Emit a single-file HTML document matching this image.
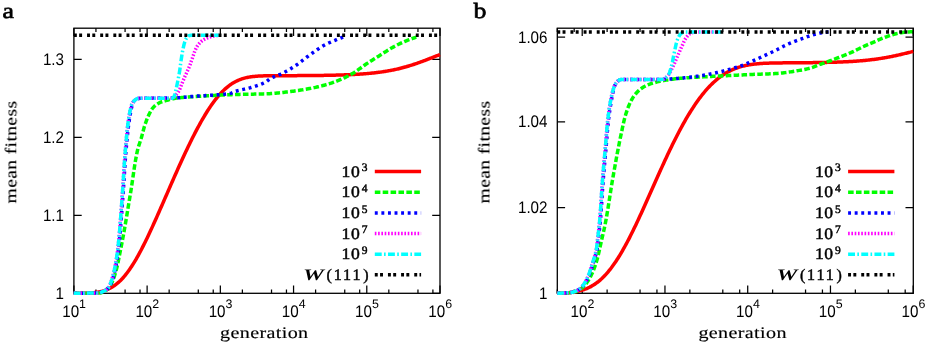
<!DOCTYPE html>
<html><head><meta charset="utf-8"><title>mean fitness vs generation</title>
<style>
html,body{margin:0;padding:0;background:#fff;}
svg{display:block}
text{text-rendering:geometricPrecision;filter:url(#tb)}
.tk{font-family:"Liberation Sans",sans-serif;font-size:15.2px;fill:#000}
.lg{font-family:"Liberation Serif",serif;font-size:16px;fill:#000;stroke:#000;stroke-width:0.45px}
.al{font-family:"Liberation Serif",serif;font-size:16.2px;fill:#000;letter-spacing:0.3px;stroke:#000;stroke-width:0.15px}
.pl{font-family:"Liberation Serif",serif;font-size:23px;fill:#000;stroke:#000;stroke-width:0.7px}
</style></head>
<body>
<svg width="926" height="343" viewBox="0 0 926 343">
<defs><filter id="tb" x="-10%" y="-30%" width="120%" height="160%"><feGaussianBlur stdDeviation="0.35"/></filter></defs>
<rect width="926" height="343" fill="#fff"/>
<rect x="73.9" y="28.2" width="366.1" height="265.1" fill="none" stroke="#000" stroke-width="1.3"/>
<text transform="translate(62.20,316.7) scale(1,1.1)" class="tk">10</text>
<text x="79.10" y="308.4" class="tk" style="font-size:12.4px">1</text>
<text transform="translate(135.42,316.7) scale(1,1.1)" class="tk">10</text>
<text x="152.32" y="308.4" class="tk" style="font-size:12.4px">2</text>
<text transform="translate(208.64,316.7) scale(1,1.1)" class="tk">10</text>
<text x="225.54" y="308.4" class="tk" style="font-size:12.4px">3</text>
<text transform="translate(281.86,316.7) scale(1,1.1)" class="tk">10</text>
<text x="298.76" y="308.4" class="tk" style="font-size:12.4px">4</text>
<text transform="translate(355.08,316.7) scale(1,1.1)" class="tk">10</text>
<text x="371.98" y="308.4" class="tk" style="font-size:12.4px">5</text>
<text transform="translate(428.30,316.7) scale(1,1.1)" class="tk">10</text>
<text x="445.20" y="308.4" class="tk" style="font-size:12.4px">6</text>
<text transform="translate(64,298.85) scale(1,1.1)" class="tk" text-anchor="end">1</text>
<text transform="translate(64,220.85) scale(1,1.1)" class="tk" text-anchor="end">1.1</text>
<text transform="translate(64,142.85) scale(1,1.1)" class="tk" text-anchor="end">1.2</text>
<text transform="translate(64,64.95) scale(1,1.1)" class="tk" text-anchor="end">1.3</text>
<path d="M73.90,293.3 v-7.8 M73.90,28.2 v7.8 M95.94,293.3 v-3.8 M95.94,28.2 v3.8 M125.08,293.3 v-3.8 M125.08,28.2 v3.8 M140.02,293.3 v-3.8 M140.02,28.2 v3.8 M147.12,293.3 v-7.8 M147.12,28.2 v7.8 M169.16,293.3 v-3.8 M169.16,28.2 v3.8 M198.30,293.3 v-3.8 M198.30,28.2 v3.8 M213.24,293.3 v-3.8 M213.24,28.2 v3.8 M220.34,293.3 v-7.8 M220.34,28.2 v7.8 M242.38,293.3 v-3.8 M242.38,28.2 v3.8 M271.52,293.3 v-3.8 M271.52,28.2 v3.8 M286.46,293.3 v-3.8 M286.46,28.2 v3.8 M293.56,293.3 v-7.8 M293.56,28.2 v7.8 M315.60,293.3 v-3.8 M315.60,28.2 v3.8 M344.74,293.3 v-3.8 M344.74,28.2 v3.8 M359.68,293.3 v-3.8 M359.68,28.2 v3.8 M366.78,293.3 v-7.8 M366.78,28.2 v7.8 M388.82,293.3 v-3.8 M388.82,28.2 v3.8 M417.96,293.3 v-3.8 M417.96,28.2 v3.8 M432.90,293.3 v-3.8 M432.90,28.2 v3.8 M440.00,293.3 v-7.8 M440.00,28.2 v7.8 M73.9,293.25 h7.8 M440,293.25 h-7.8 M73.9,215.25 h7.8 M440,215.25 h-7.8 M73.9,137.25 h7.8 M440,137.25 h-7.8 M73.9,59.35 h7.8 M440,59.35 h-7.8" stroke="#000" stroke-width="1.25" fill="none"/>
<path d="M73.75,293.30 L74.67,293.30 L75.59,293.29 L76.50,293.29 L77.42,293.28 L78.34,293.28 L79.26,293.27 L80.18,293.26 L81.09,293.25 L82.01,293.24 L82.93,293.22 L83.85,293.20 L84.77,293.18 L85.68,293.16 L86.60,293.13 L87.52,293.09 L88.44,293.05 L89.35,293.01 L90.27,292.95 L91.19,292.89 L92.11,292.82 L93.03,292.75 L93.94,292.66 L94.86,292.56 L95.78,292.45 L96.70,292.32 L97.62,292.18 L98.53,292.03 L99.45,291.86 L100.37,291.67 L101.29,291.46 L102.21,291.23 L103.12,290.98 L104.04,290.70 L104.96,290.40 L105.88,290.08 L106.80,289.72 L107.71,289.34 L108.63,288.93 L109.55,288.49 L110.47,288.01 L111.38,287.50 L112.30,286.96 L113.22,286.38 L114.14,285.77 L115.06,285.12 L115.97,284.43 L116.89,283.70 L117.81,282.93 L118.73,282.12 L119.65,281.27 L120.56,280.38 L121.48,279.45 L122.40,278.48 L123.32,277.46 L124.24,276.41 L125.15,275.31 L126.07,274.17 L126.99,272.99 L127.91,271.77 L128.83,270.50 L129.74,269.20 L130.66,267.86 L131.58,266.48 L132.50,265.06 L133.41,263.60 L134.33,262.11 L135.25,260.58 L136.17,259.02 L137.09,257.42 L138.00,255.79 L138.92,254.12 L139.84,252.43 L140.76,250.71 L141.68,248.95 L142.59,247.17 L143.51,245.37 L144.43,243.54 L145.35,241.68 L146.27,239.80 L147.18,237.90 L148.10,235.98 L149.02,234.04 L149.94,232.08 L150.86,230.11 L151.77,228.12 L152.69,226.11 L153.61,224.09 L154.53,222.06 L155.44,220.01 L156.36,217.96 L157.28,215.90 L158.20,213.82 L159.12,211.74 L160.03,209.66 L160.95,207.56 L161.87,205.47 L162.79,203.37 L163.71,201.26 L164.62,199.16 L165.54,197.05 L166.46,194.94 L167.38,192.83 L168.30,190.73 L169.21,188.62 L170.13,186.52 L171.05,184.42 L171.97,182.33 L172.89,180.24 L173.80,178.15 L174.72,176.08 L175.64,174.00 L176.56,171.94 L177.47,169.89 L178.39,167.84 L179.31,165.80 L180.23,163.77 L181.15,161.75 L182.06,159.75 L182.98,157.75 L183.90,155.77 L184.82,153.80 L185.74,151.85 L186.65,149.91 L187.57,147.98 L188.49,146.07 L189.41,144.17 L190.33,142.29 L191.24,140.43 L192.16,138.59 L193.08,136.76 L194.00,134.96 L194.92,133.17 L195.83,131.40 L196.75,129.66 L197.67,127.93 L198.59,126.23 L199.51,124.55 L200.42,122.89 L201.34,121.26 L202.26,119.65 L203.18,118.07 L204.09,116.51 L205.01,114.98 L205.93,113.48 L206.85,112.00 L207.77,110.55 L208.68,109.13 L209.60,107.74 L210.52,106.38 L211.44,105.04 L212.36,103.74 L213.27,102.47 L214.19,101.23 L215.11,100.02 L216.03,98.85 L216.95,97.70 L217.86,96.59 L218.78,95.51 L219.70,94.47 L220.62,93.46 L221.54,92.48 L222.45,91.53 L223.37,90.62 L224.29,89.74 L225.21,88.90 L226.12,88.09 L227.04,87.31 L227.96,86.56 L228.88,85.84 L229.80,85.16 L230.71,84.51 L231.63,83.89 L232.55,83.30 L233.47,82.74 L234.39,82.21 L235.30,81.71 L236.22,81.24 L237.14,80.80 L238.06,80.38 L238.98,79.99 L239.89,79.62 L240.81,79.27 L241.73,78.95 L242.65,78.66 L243.57,78.38 L244.48,78.12 L245.40,77.89 L246.32,77.67 L247.24,77.47 L248.15,77.28 L249.07,77.12 L249.99,76.96 L250.91,76.82 L251.83,76.70 L252.74,76.58 L253.66,76.48 L254.58,76.39 L255.50,76.30 L256.42,76.23 L257.33,76.16 L258.25,76.10 L259.17,76.05 L260.09,76.00 L261.01,75.96 L261.92,75.93 L262.84,75.89 L263.76,75.87 L264.68,75.84 L265.60,75.82 L266.51,75.80 L267.43,75.79 L268.35,75.77 L269.27,75.76 L270.18,75.75 L271.10,75.74 L272.02,75.73 L272.94,75.73 L273.86,75.72 L274.77,75.72 L275.69,75.71 L276.61,75.71 L277.53,75.70 L278.45,75.70 L279.36,75.70 L280.28,75.69 L281.20,75.69 L282.12,75.69 L283.04,75.68 L283.95,75.68 L284.87,75.68 L285.79,75.67 L286.71,75.67 L287.63,75.67 L288.54,75.66 L289.46,75.66 L290.38,75.66 L291.30,75.65 L292.21,75.65 L293.13,75.64 L294.05,75.64 L294.97,75.64 L295.89,75.63 L296.80,75.63 L297.72,75.62 L298.64,75.62 L299.56,75.61 L300.48,75.61 L301.39,75.60 L302.31,75.60 L303.23,75.59 L304.15,75.58 L305.07,75.58 L305.98,75.57 L306.90,75.56 L307.82,75.56 L308.74,75.55 L309.66,75.54 L310.57,75.53 L311.49,75.52 L312.41,75.52 L313.33,75.51 L314.24,75.50 L315.16,75.49 L316.08,75.48 L317.00,75.47 L317.92,75.46 L318.83,75.44 L319.75,75.43 L320.67,75.42 L321.59,75.41 L322.51,75.39 L323.42,75.38 L324.34,75.37 L325.26,75.35 L326.18,75.34 L327.10,75.32 L328.01,75.30 L328.93,75.29 L329.85,75.27 L330.77,75.25 L331.69,75.23 L332.60,75.21 L333.52,75.19 L334.44,75.17 L335.36,75.15 L336.28,75.12 L337.19,75.10 L338.11,75.07 L339.03,75.05 L339.95,75.02 L340.86,74.99 L341.78,74.96 L342.70,74.93 L343.62,74.90 L344.54,74.87 L345.45,74.84 L346.37,74.80 L347.29,74.77 L348.21,74.73 L349.13,74.69 L350.04,74.65 L350.96,74.61 L351.88,74.56 L352.80,74.52 L353.72,74.47 L354.63,74.42 L355.55,74.37 L356.47,74.32 L357.39,74.27 L358.31,74.21 L359.22,74.16 L360.14,74.10 L361.06,74.04 L361.98,73.97 L362.89,73.91 L363.81,73.84 L364.73,73.77 L365.65,73.69 L366.57,73.62 L367.48,73.54 L368.40,73.46 L369.32,73.37 L370.24,73.29 L371.16,73.20 L372.07,73.10 L372.99,73.01 L373.91,72.91 L374.83,72.81 L375.75,72.70 L376.66,72.59 L377.58,72.48 L378.50,72.36 L379.42,72.24 L380.34,72.12 L381.25,71.99 L382.17,71.86 L383.09,71.72 L384.01,71.58 L384.92,71.44 L385.84,71.29 L386.76,71.14 L387.68,70.98 L388.60,70.82 L389.51,70.65 L390.43,70.48 L391.35,70.30 L392.27,70.12 L393.19,69.93 L394.10,69.74 L395.02,69.55 L395.94,69.35 L396.86,69.14 L397.78,68.93 L398.69,68.71 L399.61,68.49 L400.53,68.26 L401.45,68.03 L402.37,67.79 L403.28,67.55 L404.20,67.30 L405.12,67.04 L406.04,66.79 L406.95,66.52 L407.87,66.25 L408.79,65.98 L409.71,65.70 L410.63,65.41 L411.54,65.12 L412.46,64.83 L413.38,64.53 L414.30,64.22 L415.22,63.91 L416.13,63.60 L417.05,63.28 L417.97,62.96 L418.89,62.64 L419.81,62.31 L420.72,61.97 L421.64,61.64 L422.56,61.30 L423.48,60.96 L424.40,60.61 L425.31,60.26 L426.23,59.91 L427.15,59.56 L428.07,59.20 L428.98,58.85 L429.90,58.49 L430.82,58.13 L431.74,57.77 L432.66,57.41 L433.57,57.05 L434.49,56.69 L435.41,56.33 L436.33,55.97 L437.25,55.62 L438.16,55.26 L439.08,54.90 L440.00,54.55" fill="none" stroke="#ff0000" stroke-width="3.5"/>
<path d="M73.75,293.20 L75.07,293.20 L76.38,293.20 L77.69,293.20 L78.99,293.19 L80.28,293.19 L81.56,293.18 L82.84,293.18 L84.11,293.17 L85.38,293.16 L86.63,293.15 L87.89,293.13 L89.13,293.12 L90.37,293.10 L91.61,293.08 L92.84,293.06 L94.07,293.04 L95.29,293.02 L96.51,292.99 L97.73,292.96 L98.94,292.93 L100.14,292.89 L101.37,292.68 L102.59,292.25 L103.77,291.68 L104.86,291.08 L105.88,290.43 L106.87,289.64 L107.82,288.74 L108.70,287.77 L109.48,286.76 L110.15,285.76 L110.76,284.74 L111.34,283.67 L111.88,282.56 L112.40,281.42 L112.90,280.26 L113.37,279.07 L113.81,277.86 L114.24,276.64 L114.64,275.41 L115.03,274.18 L115.40,272.95 L115.76,271.72 L116.11,270.51 L116.44,269.31 L116.76,268.10 L117.06,266.89 L117.34,265.67 L117.62,264.44 L117.88,263.21 L118.13,261.98 L118.38,260.74 L118.62,259.50 L118.87,258.26 L119.10,257.02 L119.34,255.79 L119.59,254.55 L119.83,253.31 L120.09,252.08 L120.34,250.85 L120.59,249.62 L120.85,248.39 L121.10,247.16 L121.35,245.92 L121.59,244.69 L121.84,243.46 L122.08,242.22 L122.31,240.99 L122.55,239.75 L122.78,238.52 L123.00,237.28 L123.23,236.05 L123.46,234.81 L123.68,233.57 L123.90,232.33 L124.12,231.10 L124.34,229.86 L124.56,228.62 L124.78,227.38 L124.99,226.14 L125.21,224.91 L125.42,223.67 L125.63,222.43 L125.84,221.19 L126.05,219.95 L126.26,218.71 L126.47,217.47 L126.68,216.23 L126.89,214.99 L127.09,213.75 L127.30,212.51 L127.51,211.27 L127.71,210.03 L127.92,208.79 L128.12,207.55 L128.33,206.31 L128.53,205.07 L128.74,203.83 L128.94,202.59 L129.15,201.34 L129.35,200.10 L129.56,198.86 L129.76,197.62 L129.97,196.38 L130.18,195.14 L130.38,193.90 L130.59,192.66 L130.80,191.42 L131.00,190.18 L131.20,188.94 L131.39,187.70 L131.59,186.45 L131.77,185.20 L131.96,183.96 L132.14,182.71 L132.33,181.46 L132.51,180.22 L132.69,178.97 L132.87,177.72 L133.05,176.47 L133.22,175.22 L133.41,173.97 L133.59,172.73 L133.77,171.48 L133.95,170.23 L134.14,168.99 L134.33,167.74 L134.52,166.50 L134.72,165.26 L134.92,164.01 L135.12,162.77 L135.33,161.54 L135.55,160.30 L135.77,159.06 L135.99,157.83 L136.22,156.60 L136.46,155.37 L136.71,154.14 L136.96,152.92 L137.22,151.69 L137.49,150.48 L137.78,149.26 L138.10,148.05 L138.44,146.85 L138.82,145.65 L139.21,144.45 L139.61,143.25 L140.01,142.06 L140.41,140.86 L140.79,139.66 L141.17,138.46 L141.51,137.25 L141.85,136.04 L142.17,134.82 L142.49,133.60 L142.80,132.38 L143.12,131.17 L143.44,129.95 L143.78,128.74 L144.12,127.53 L144.49,126.33 L144.87,125.14 L145.27,123.94 L145.67,122.74 L146.09,121.55 L146.53,120.37 L146.98,119.19 L147.45,118.03 L147.94,116.88 L148.45,115.74 L148.98,114.58 L149.54,113.41 L150.11,112.25 L150.72,111.11 L151.36,110.02 L152.05,108.97 L152.77,108.01 L153.55,107.12 L154.43,106.26 L155.40,105.43 L156.43,104.64 L157.51,103.91 L158.62,103.25 L159.73,102.67 L160.84,102.18 L162.00,101.74 L163.19,101.35 L164.41,100.98 L165.64,100.64 L166.87,100.31 L168.09,99.98 L169.30,99.64 L170.51,99.29 L171.73,98.97 L172.96,98.67 L174.19,98.43 L175.42,98.24 L176.66,98.08 L177.90,97.94 L179.14,97.79 L180.39,97.66 L181.64,97.54 L182.89,97.42 L184.14,97.31 L185.40,97.21 L186.65,97.11 L187.91,97.02 L189.17,96.93 L190.43,96.84 L191.69,96.76 L192.94,96.68 L194.20,96.60 L195.46,96.53 L196.72,96.45 L197.98,96.37 L199.23,96.30 L200.49,96.22 L201.74,96.14 L203.00,96.07 L204.25,95.99 L205.51,95.92 L206.76,95.84 L208.02,95.77 L209.27,95.70 L210.53,95.63 L211.78,95.56 L213.04,95.49 L214.29,95.42 L215.55,95.36 L216.80,95.29 L218.06,95.23 L219.32,95.17 L220.57,95.11 L221.83,95.05 L223.08,94.99 L224.34,94.93 L225.60,94.88 L226.85,94.83 L228.11,94.78 L229.37,94.73 L230.62,94.68 L231.88,94.63 L233.13,94.59 L234.39,94.54 L235.65,94.50 L236.90,94.46 L238.16,94.43 L239.42,94.40 L240.67,94.37 L241.93,94.34 L243.19,94.31 L244.45,94.28 L245.70,94.26 L246.96,94.24 L248.22,94.21 L249.48,94.19 L250.74,94.17 L251.99,94.15 L253.25,94.13 L254.51,94.10 L255.77,94.08 L257.02,94.05 L258.28,94.02 L259.54,94.00 L260.79,93.96 L262.05,93.93 L263.30,93.89 L264.56,93.86 L265.81,93.81 L267.07,93.77 L268.32,93.72 L269.58,93.65 L270.83,93.58 L272.08,93.49 L273.34,93.40 L274.59,93.30 L275.84,93.19 L277.09,93.07 L278.35,92.94 L279.60,92.81 L280.85,92.67 L282.10,92.53 L283.35,92.39 L284.60,92.24 L285.85,92.08 L287.10,91.93 L288.35,91.77 L289.60,91.62 L290.84,91.46 L292.09,91.30 L293.34,91.14 L294.58,90.98 L295.83,90.81 L297.07,90.64 L298.32,90.46 L299.56,90.27 L300.81,90.08 L302.05,89.89 L303.29,89.68 L304.54,89.47 L305.78,89.26 L307.01,89.04 L308.25,88.82 L309.49,88.59 L310.72,88.35 L311.95,88.11 L313.18,87.86 L314.41,87.61 L315.64,87.34 L316.87,87.07 L318.10,86.78 L319.32,86.49 L320.55,86.19 L321.77,85.87 L322.99,85.55 L324.21,85.22 L325.42,84.88 L326.63,84.53 L327.83,84.18 L329.02,83.81 L330.21,83.43 L331.40,83.04 L332.59,82.63 L333.77,82.21 L334.96,81.78 L336.14,81.33 L337.31,80.87 L338.49,80.40 L339.66,79.91 L340.82,79.41 L341.98,78.90 L343.13,78.38 L344.28,77.85 L345.42,77.31 L346.55,76.76 L347.67,76.20 L348.78,75.64 L349.88,75.06 L350.98,74.47 L352.05,73.85 L353.12,73.20 L354.18,72.54 L355.22,71.85 L356.26,71.14 L357.30,70.42 L358.33,69.69 L359.35,68.95 L360.38,68.21 L361.40,67.47 L362.43,66.72 L363.45,65.98 L364.48,65.25 L365.52,64.53 L366.56,63.82 L367.61,63.13 L368.67,62.44 L369.72,61.76 L370.78,61.09 L371.84,60.41 L372.91,59.74 L373.97,59.07 L375.04,58.41 L376.10,57.74 L377.17,57.07 L378.23,56.41 L379.30,55.74 L380.37,55.07 L381.43,54.39 L382.49,53.71 L383.54,53.03 L384.60,52.34 L385.66,51.66 L386.72,50.98 L387.78,50.31 L388.85,49.64 L389.92,48.99 L391.00,48.35 L392.09,47.73 L393.18,47.12 L394.29,46.52 L395.39,45.93 L396.51,45.34 L397.63,44.76 L398.75,44.19 L399.88,43.63 L401.02,43.08 L402.16,42.55 L403.30,42.03 L404.45,41.53 L405.61,41.05 L406.77,40.57 L407.93,40.11 L409.10,39.66 L410.28,39.22 L411.46,38.79 L412.65,38.37 L413.85,37.97 L415.05,37.58 L416.25,37.20" fill="none" stroke="#00ff00" stroke-width="3.5" stroke-dasharray="5.56 2.33"/>
<path d="M73.75,293.20 L74.92,293.20 L76.08,293.20 L77.23,293.20 L78.39,293.19 L79.54,293.19 L80.68,293.18 L81.83,293.18 L82.97,293.17 L84.10,293.16 L85.24,293.15 L86.37,293.14 L87.50,293.12 L88.62,293.11 L89.75,293.09 L90.87,293.07 L91.99,293.05 L93.10,293.03 L94.22,293.00 L95.33,292.97 L96.44,292.94 L97.55,292.91 L98.66,292.85 L99.77,292.63 L100.88,292.30 L101.96,291.91 L103.01,291.50 L104.05,291.04 L105.08,290.50 L106.08,289.88 L106.98,289.21 L107.76,288.49 L108.48,287.68 L109.16,286.77 L109.80,285.80 L110.39,284.78 L110.92,283.73 L111.41,282.69 L111.84,281.66 L112.23,280.62 L112.59,279.55 L112.93,278.47 L113.24,277.37 L113.54,276.27 L113.82,275.16 L114.09,274.05 L114.35,272.94 L114.60,271.84 L114.85,270.74 L115.09,269.63 L115.33,268.52 L115.56,267.41 L115.78,266.30 L116.00,265.19 L116.21,264.07 L116.41,262.96 L116.61,261.84 L116.81,260.72 L116.99,259.60 L117.17,258.48 L117.35,257.36 L117.52,256.24 L117.68,255.12 L117.84,254.00 L117.99,252.88 L118.14,251.76 L118.28,250.64 L118.42,249.51 L118.56,248.39 L118.69,247.26 L118.81,246.13 L118.94,245.01 L119.06,243.88 L119.18,242.75 L119.29,241.63 L119.40,240.50 L119.51,239.37 L119.62,238.25 L119.72,237.12 L119.83,235.99 L119.93,234.86 L120.03,233.73 L120.13,232.61 L120.23,231.48 L120.33,230.35 L120.42,229.22 L120.52,228.09 L120.61,226.96 L120.70,225.84 L120.79,224.71 L120.88,223.58 L120.97,222.45 L121.06,221.32 L121.15,220.19 L121.24,219.06 L121.32,217.93 L121.41,216.80 L121.49,215.67 L121.58,214.54 L121.66,213.41 L121.74,212.28 L121.82,211.15 L121.91,210.02 L121.99,208.89 L122.07,207.76 L122.15,206.63 L122.23,205.50 L122.31,204.37 L122.39,203.24 L122.47,202.11 L122.55,200.98 L122.63,199.85 L122.71,198.72 L122.80,197.59 L122.88,196.46 L122.96,195.33 L123.04,194.20 L123.12,193.07 L123.20,191.94 L123.29,190.81 L123.37,189.68 L123.44,188.55 L123.52,187.42 L123.60,186.29 L123.67,185.16 L123.75,184.03 L123.82,182.90 L123.89,181.76 L123.96,180.63 L124.03,179.50 L124.10,178.37 L124.17,177.24 L124.24,176.11 L124.31,174.98 L124.38,173.85 L124.45,172.71 L124.52,171.58 L124.59,170.45 L124.66,169.32 L124.73,168.19 L124.80,167.06 L124.87,165.93 L124.95,164.80 L125.02,163.67 L125.10,162.54 L125.18,161.41 L125.26,160.28 L125.34,159.15 L125.42,158.02 L125.50,156.89 L125.59,155.76 L125.68,154.63 L125.77,153.50 L125.86,152.38 L125.96,151.25 L126.05,150.12 L126.15,148.99 L126.26,147.87 L126.36,146.74 L126.46,145.61 L126.57,144.48 L126.67,143.34 L126.77,142.21 L126.88,141.07 L126.99,139.94 L127.09,138.80 L127.20,137.66 L127.31,136.52 L127.43,135.38 L127.54,134.25 L127.66,133.11 L127.78,131.97 L127.91,130.83 L128.03,129.69 L128.17,128.56 L128.30,127.42 L128.44,126.29 L128.58,125.16 L128.73,124.03 L128.88,122.90 L129.04,121.77 L129.20,120.65 L129.37,119.53 L129.54,118.41 L129.72,117.29 L129.90,116.18 L130.09,115.07 L130.29,113.96 L130.49,112.86 L130.71,111.76 L130.92,110.66 L131.15,109.57 L131.38,108.48 L131.62,107.40 L131.87,106.32 L132.15,105.23 L132.49,104.10 L132.91,102.98 L133.40,101.95 L133.96,101.06 L134.68,100.25 L135.61,99.48 L136.64,98.88 L137.69,98.57 L138.79,98.41 L139.94,98.30 L141.09,98.25 L142.22,98.23 L143.35,98.21 L144.48,98.19 L145.61,98.18 L146.74,98.17 L147.87,98.16 L149.01,98.15 L150.14,98.14 L151.27,98.13 L152.41,98.13 L153.54,98.12 L154.67,98.12 L155.81,98.11 L156.94,98.11 L158.07,98.11 L159.21,98.10 L160.34,98.10 L161.48,98.09 L162.61,98.09 L163.74,98.08 L164.88,98.08 L166.01,98.07 L167.14,98.06 L168.28,98.05 L169.41,98.04 L170.54,98.03 L171.67,98.01 L172.80,97.99 L173.93,97.97 L175.07,97.93 L176.20,97.87 L177.32,97.81 L178.45,97.73 L179.58,97.65 L180.71,97.56 L181.84,97.46 L182.97,97.36 L184.10,97.25 L185.23,97.14 L186.36,97.03 L187.49,96.92 L188.62,96.81 L189.74,96.70 L190.87,96.59 L192.00,96.49 L193.13,96.39 L194.26,96.30 L195.39,96.22 L196.52,96.14 L197.65,96.07 L198.78,95.99 L199.91,95.92 L201.04,95.85 L202.17,95.79 L203.31,95.72 L204.44,95.65 L205.57,95.58 L206.70,95.52 L207.83,95.45 L208.96,95.38 L210.09,95.31 L211.22,95.24 L212.35,95.17 L213.48,95.09 L214.61,95.02 L215.74,94.93 L216.87,94.85 L218.00,94.76 L219.13,94.67 L220.26,94.58 L221.39,94.48 L222.53,94.39 L223.67,94.29 L224.80,94.19 L225.94,94.07 L227.07,93.94 L228.18,93.79 L229.29,93.62 L230.38,93.42 L231.44,93.09 L232.49,92.65 L233.53,92.16 L234.58,91.69 L235.64,91.29 L236.72,90.96 L237.81,90.66 L238.90,90.39 L240.00,90.12 L241.11,89.87 L242.22,89.63 L243.33,89.40 L244.45,89.16 L245.56,88.91 L246.66,88.66 L247.77,88.40 L248.86,88.12 L249.95,87.81 L251.03,87.50 L252.13,87.18 L253.22,86.85 L254.32,86.52 L255.42,86.17 L256.51,85.82 L257.60,85.46 L258.69,85.08 L259.76,84.68 L260.82,84.28 L261.87,83.85 L262.90,83.40 L263.92,82.93 L264.91,82.44 L265.88,81.93 L266.80,81.30 L267.68,80.57 L268.56,79.81 L269.45,79.11 L270.40,78.52 L271.38,78.00 L272.39,77.51 L273.42,77.05 L274.46,76.61 L275.52,76.19 L276.59,75.78 L277.66,75.36 L278.73,74.95 L279.79,74.52 L280.83,74.08 L281.87,73.61 L282.88,73.11 L283.88,72.59 L284.88,72.07 L285.88,71.52 L286.87,70.97 L287.86,70.41 L288.84,69.84 L289.82,69.26 L290.79,68.67 L291.75,68.07 L292.71,67.47 L293.67,66.86 L294.62,66.25 L295.56,65.63 L296.49,64.99 L297.42,64.34 L298.33,63.68 L299.24,63.01 L300.14,62.32 L301.04,61.63 L301.94,60.94 L302.84,60.24 L303.73,59.54 L304.62,58.84 L305.52,58.14 L306.42,57.45 L307.32,56.76 L308.23,56.08 L309.14,55.41 L310.06,54.75 L310.99,54.10 L311.91,53.44 L312.84,52.77 L313.76,52.11 L314.68,51.45 L315.61,50.78 L316.54,50.13 L317.48,49.47 L318.41,48.83 L319.36,48.20 L320.30,47.58 L321.26,46.97 L322.22,46.38 L323.19,45.81 L324.17,45.25 L325.15,44.72 L326.15,44.21 L327.16,43.71 L328.18,43.23 L329.21,42.76 L330.25,42.30 L331.30,41.85 L332.34,41.41 L333.40,40.97 L334.45,40.54 L335.50,40.11 L336.55,39.69 L337.60,39.26 L338.65,38.83 L339.70,38.41 L340.76,38.00 L341.82,37.59 L342.88,37.19 L343.94,36.79 L345.00,36.40" fill="none" stroke="#0000ff" stroke-width="3.5" stroke-dasharray="2.93 3.65"/>
<path d="M73.75,293.20 L74.65,293.20 L75.54,293.20 L76.43,293.20 L77.32,293.20 L78.21,293.19 L79.10,293.19 L79.98,293.19 L80.86,293.18 L81.74,293.18 L82.62,293.17 L83.49,293.16 L84.37,293.16 L85.24,293.15 L86.11,293.14 L86.98,293.13 L87.85,293.12 L88.71,293.10 L89.57,293.09 L90.44,293.08 L91.30,293.06 L92.16,293.05 L93.02,293.03 L93.87,293.01 L94.73,292.99 L95.59,292.97 L96.44,292.94 L97.29,292.92 L98.14,292.89 L99.00,292.80 L99.86,292.61 L100.71,292.36 L101.55,292.06 L102.37,291.75 L103.17,291.43 L103.98,291.08 L104.79,290.68 L105.59,290.23 L106.34,289.74 L107.01,289.22 L107.58,288.66 L108.09,288.04 L108.56,287.35 L109.00,286.60 L109.41,285.80 L109.80,284.98 L110.16,284.14 L110.50,283.29 L110.82,282.46 L111.13,281.65 L111.42,280.84 L111.70,280.02 L111.97,279.19 L112.23,278.36 L112.47,277.52 L112.71,276.67 L112.93,275.82 L113.15,274.98 L113.36,274.13 L113.57,273.28 L113.77,272.43 L113.96,271.58 L114.15,270.74 L114.34,269.89 L114.52,269.03 L114.70,268.18 L114.87,267.33 L115.05,266.47 L115.21,265.62 L115.38,264.76 L115.54,263.90 L115.70,263.04 L115.85,262.18 L116.00,261.32 L116.15,260.46 L116.29,259.60 L116.43,258.74 L116.57,257.88 L116.70,257.02 L116.83,256.16 L116.96,255.30 L117.08,254.44 L117.20,253.57 L117.32,252.71 L117.43,251.85 L117.54,250.98 L117.65,250.12 L117.75,249.25 L117.86,248.39 L117.96,247.52 L118.06,246.65 L118.15,245.79 L118.25,244.92 L118.34,244.05 L118.43,243.19 L118.52,242.32 L118.61,241.45 L118.69,240.59 L118.78,239.72 L118.86,238.85 L118.94,237.98 L119.02,237.12 L119.10,236.25 L119.18,235.38 L119.26,234.52 L119.34,233.65 L119.42,232.78 L119.49,231.91 L119.57,231.04 L119.64,230.18 L119.72,229.31 L119.79,228.44 L119.86,227.57 L119.93,226.70 L120.00,225.83 L120.07,224.97 L120.14,224.10 L120.21,223.23 L120.28,222.36 L120.35,221.49 L120.42,220.62 L120.48,219.75 L120.55,218.88 L120.62,218.02 L120.68,217.15 L120.75,216.28 L120.81,215.41 L120.88,214.54 L120.94,213.67 L121.00,212.80 L121.07,211.93 L121.13,211.06 L121.19,210.19 L121.26,209.32 L121.32,208.45 L121.38,207.58 L121.44,206.72 L121.51,205.85 L121.57,204.98 L121.63,204.11 L121.69,203.24 L121.75,202.37 L121.82,201.50 L121.88,200.63 L121.94,199.76 L122.00,198.89 L122.06,198.02 L122.13,197.15 L122.19,196.28 L122.25,195.41 L122.31,194.55 L122.38,193.68 L122.44,192.81 L122.50,191.94 L122.57,191.07 L122.63,190.20 L122.69,189.33 L122.75,188.46 L122.81,187.59 L122.87,186.72 L122.93,185.85 L122.98,184.98 L123.04,184.11 L123.10,183.24 L123.15,182.37 L123.21,181.50 L123.26,180.63 L123.32,179.76 L123.37,178.89 L123.42,178.02 L123.48,177.15 L123.53,176.28 L123.58,175.41 L123.64,174.54 L123.69,173.67 L123.74,172.80 L123.80,171.93 L123.85,171.06 L123.90,170.19 L123.96,169.32 L124.01,168.45 L124.07,167.58 L124.12,166.71 L124.18,165.84 L124.24,164.97 L124.29,164.10 L124.35,163.23 L124.41,162.36 L124.47,161.49 L124.53,160.62 L124.59,159.75 L124.66,158.88 L124.72,158.02 L124.78,157.15 L124.85,156.28 L124.92,155.41 L124.99,154.54 L125.05,153.67 L125.13,152.81 L125.20,151.94 L125.27,151.07 L125.35,150.21 L125.42,149.34 L125.50,148.47 L125.58,147.60 L125.66,146.73 L125.74,145.86 L125.81,144.99 L125.89,144.11 L125.97,143.24 L126.04,142.36 L126.12,141.48 L126.20,140.59 L126.28,139.71 L126.35,138.83 L126.43,137.94 L126.51,137.06 L126.59,136.17 L126.68,135.29 L126.76,134.40 L126.84,133.52 L126.93,132.63 L127.02,131.75 L127.11,130.86 L127.20,129.98 L127.29,129.10 L127.39,128.22 L127.49,127.34 L127.59,126.46 L127.70,125.58 L127.80,124.70 L127.92,123.83 L128.03,122.96 L128.15,122.09 L128.27,121.22 L128.39,120.35 L128.52,119.49 L128.65,118.63 L128.79,117.77 L128.93,116.91 L129.07,116.06 L129.22,115.22 L129.38,114.37 L129.54,113.53 L129.70,112.69 L129.87,111.86 L130.04,111.03 L130.22,110.20 L130.41,109.38 L130.60,108.57 L130.80,107.76 L131.00,106.95 L131.21,106.15 L131.45,105.34 L131.77,104.52 L132.16,103.70 L132.61,102.91 L133.09,102.15 L133.61,101.46 L134.15,100.84 L134.77,100.22 L135.47,99.62 L136.23,99.10 L137.02,98.73 L137.82,98.54 L138.66,98.42 L139.55,98.32 L140.44,98.26 L141.31,98.25 L142.18,98.25 L143.05,98.25 L143.93,98.25 L144.80,98.25 L145.68,98.25 L146.56,98.25 L147.44,98.25 L148.32,98.25 L149.20,98.25 L150.08,98.25 L150.96,98.25 L151.84,98.25 L152.73,98.25 L153.61,98.25 L154.49,98.25 L155.37,98.25 L156.25,98.25 L157.13,98.25 L158.01,98.25 L158.88,98.25 L159.76,98.25 L160.63,98.25 L161.51,98.25 L162.38,98.25 L163.25,98.25 L164.11,98.25 L164.98,98.25 L165.84,98.25 L166.70,98.25 L167.55,98.25 L168.40,98.25 L169.25,98.25 L170.10,98.25 L170.94,98.25 L171.80,98.14 L172.65,97.85 L173.45,97.46 L174.15,97.03 L174.79,96.44 L175.38,95.76 L175.94,95.07 L176.50,94.40 L177.06,93.72 L177.59,93.02 L178.10,92.31 L178.56,91.57 L178.98,90.83 L179.36,90.06 L179.72,89.27 L180.06,88.47 L180.39,87.66 L180.71,86.84 L181.02,86.02 L181.33,85.19 L181.65,84.38 L181.97,83.57 L182.31,82.76 L182.64,81.95 L182.97,81.15 L183.29,80.34 L183.62,79.53 L183.95,78.73 L184.29,77.92 L184.63,77.12 L184.97,76.32 L185.32,75.52 L185.68,74.73 L186.05,73.94 L186.42,73.15 L186.79,72.36 L187.16,71.57 L187.53,70.78 L187.88,69.99 L188.24,69.19 L188.59,68.39 L188.94,67.59 L189.28,66.79 L189.61,65.98 L189.93,65.18 L190.24,64.36 L190.53,63.54 L190.81,62.71 L191.08,61.89 L191.36,61.06 L191.64,60.23 L191.93,59.41 L192.23,58.59 L192.51,57.76 L192.80,56.92 L193.08,56.08 L193.36,55.23 L193.65,54.39 L193.94,53.55 L194.23,52.72 L194.54,51.89 L194.85,51.07 L195.18,50.26 L195.52,49.47 L195.88,48.69 L196.25,47.93 L196.65,47.19 L197.07,46.47 L197.53,45.75 L198.03,45.04 L198.57,44.33 L199.15,43.63 L199.75,42.96 L200.37,42.32 L201.02,41.71 L201.67,41.14 L202.34,40.62 L203.02,40.14 L203.75,39.69 L204.50,39.25 L205.29,38.85 L206.09,38.46 L206.91,38.10 L207.73,37.77 L208.55,37.47 L209.36,37.19 L210.19,36.92 L211.03,36.67 L211.87,36.43 L212.72,36.21 L213.58,36.02 L214.43,35.85 L215.29,35.70 L216.15,35.58 L217.01,35.47 L217.88,35.37 L218.75,35.30" fill="none" stroke="#ff00ff" stroke-width="3.5" stroke-dasharray="1.62 1.67"/>
<path d="M73.75,293.20 L74.68,293.20 L75.60,293.20 L76.53,293.20 L77.45,293.20 L78.37,293.19 L79.28,293.19 L80.20,293.19 L81.11,293.18 L82.02,293.17 L82.93,293.17 L83.83,293.16 L84.74,293.15 L85.64,293.14 L86.54,293.13 L87.44,293.12 L88.33,293.11 L89.23,293.10 L90.12,293.08 L91.01,293.07 L91.90,293.05 L92.79,293.03 L93.68,293.01 L94.57,292.99 L95.45,292.97 L96.34,292.95 L97.22,292.92 L98.10,292.90 L98.99,292.80 L99.87,292.61 L100.75,292.34 L101.62,292.04 L102.47,291.71 L103.30,291.38 L104.14,291.01 L104.98,290.58 L105.79,290.10 L106.55,289.59 L107.22,289.03 L107.78,288.44 L108.29,287.77 L108.76,287.02 L109.20,286.22 L109.62,285.38 L110.00,284.52 L110.36,283.64 L110.70,282.77 L111.03,281.93 L111.33,281.09 L111.63,280.25 L111.91,279.39 L112.18,278.53 L112.43,277.66 L112.68,276.78 L112.91,275.91 L113.14,275.03 L113.36,274.15 L113.57,273.27 L113.77,272.39 L113.97,271.52 L114.17,270.64 L114.36,269.76 L114.55,268.88 L114.74,268.00 L114.92,267.11 L115.10,266.23 L115.27,265.34 L115.44,264.45 L115.60,263.56 L115.77,262.67 L115.92,261.78 L116.08,260.89 L116.23,260.00 L116.37,259.11 L116.52,258.22 L116.66,257.33 L116.79,256.44 L116.92,255.55 L117.05,254.65 L117.17,253.76 L117.29,252.87 L117.41,251.97 L117.53,251.08 L117.64,250.18 L117.75,249.29 L117.86,248.39 L117.96,247.50 L118.06,246.60 L118.16,245.70 L118.26,244.80 L118.36,243.91 L118.45,243.01 L118.54,242.11 L118.63,241.21 L118.72,240.32 L118.81,239.42 L118.89,238.52 L118.98,237.62 L119.06,236.73 L119.14,235.83 L119.22,234.93 L119.31,234.03 L119.39,233.13 L119.46,232.24 L119.54,231.34 L119.62,230.44 L119.70,229.54 L119.77,228.64 L119.85,227.74 L119.92,226.84 L119.99,225.94 L120.07,225.05 L120.14,224.15 L120.21,223.25 L120.28,222.35 L120.35,221.45 L120.42,220.55 L120.49,219.65 L120.56,218.75 L120.63,217.85 L120.70,216.95 L120.76,216.05 L120.83,215.15 L120.90,214.25 L120.96,213.35 L121.03,212.45 L121.10,211.55 L121.16,210.65 L121.23,209.75 L121.29,208.85 L121.36,207.95 L121.42,207.05 L121.48,206.15 L121.55,205.25 L121.61,204.35 L121.68,203.45 L121.74,202.55 L121.81,201.65 L121.87,200.75 L121.93,199.85 L122.00,198.95 L122.06,198.05 L122.13,197.15 L122.19,196.25 L122.26,195.35 L122.32,194.45 L122.39,193.55 L122.45,192.65 L122.52,191.75 L122.58,190.85 L122.65,189.95 L122.71,189.05 L122.77,188.15 L122.83,187.25 L122.89,186.35 L122.95,185.45 L123.01,184.55 L123.07,183.65 L123.13,182.75 L123.18,181.85 L123.24,180.95 L123.30,180.05 L123.35,179.15 L123.41,178.25 L123.46,177.35 L123.52,176.44 L123.57,175.54 L123.63,174.64 L123.69,173.74 L123.74,172.84 L123.80,171.94 L123.85,171.04 L123.91,170.14 L123.96,169.24 L124.02,168.34 L124.08,167.44 L124.14,166.54 L124.19,165.64 L124.25,164.74 L124.31,163.84 L124.37,162.94 L124.43,162.04 L124.50,161.14 L124.56,160.24 L124.62,159.34 L124.69,158.44 L124.76,157.54 L124.82,156.64 L124.89,155.74 L124.96,154.84 L125.03,153.94 L125.11,153.04 L125.18,152.15 L125.26,151.25 L125.33,150.35 L125.41,149.45 L125.49,148.56 L125.58,147.66 L125.66,146.76 L125.74,145.86 L125.82,144.95 L125.90,144.04 L125.98,143.14 L126.06,142.23 L126.14,141.31 L126.22,140.40 L126.30,139.49 L126.38,138.57 L126.46,137.66 L126.54,136.74 L126.63,135.82 L126.71,134.91 L126.80,133.99 L126.89,133.08 L126.98,132.16 L127.07,131.24 L127.16,130.33 L127.26,129.41 L127.36,128.50 L127.46,127.59 L127.57,126.68 L127.67,125.77 L127.78,124.86 L127.90,123.96 L128.02,123.05 L128.14,122.15 L128.26,121.25 L128.39,120.36 L128.52,119.46 L128.66,118.57 L128.80,117.68 L128.95,116.80 L129.10,115.92 L129.25,115.04 L129.42,114.17 L129.58,113.30 L129.75,112.43 L129.93,111.57 L130.11,110.71 L130.30,109.86 L130.50,109.01 L130.70,108.17 L130.90,107.33 L131.12,106.50 L131.34,105.67 L131.65,104.83 L132.02,103.98 L132.47,103.14 L132.96,102.35 L133.49,101.61 L134.04,100.96 L134.66,100.32 L135.38,99.69 L136.16,99.15 L136.98,98.75 L137.80,98.55 L138.68,98.42 L139.59,98.32 L140.51,98.26 L141.42,98.25 L142.33,98.25 L143.24,98.25 L144.17,98.25 L145.10,98.25 L146.03,98.25 L146.97,98.25 L147.92,98.25 L148.87,98.25 L149.82,98.25 L150.77,98.25 L151.73,98.25 L152.68,98.25 L153.63,98.25 L154.59,98.25 L155.54,98.25 L156.48,98.25 L157.43,98.25 L158.36,98.25 L159.30,98.25 L160.22,98.25 L161.14,98.25 L162.05,98.25 L162.96,98.25 L163.85,98.25 L164.73,98.25 L165.60,98.25 L166.46,98.25 L167.31,98.25 L168.14,98.25 L168.96,98.25 L169.76,98.25 L170.55,98.25 L171.32,98.25 L172.07,98.25 L172.85,97.88 L173.56,97.15 L174.06,96.39 L174.39,95.62 L174.65,94.75 L174.88,93.84 L175.09,92.92 L175.32,92.04 L175.54,91.17 L175.76,90.30 L175.98,89.42 L176.18,88.54 L176.39,87.66 L176.59,86.78 L176.78,85.90 L176.97,85.02 L177.16,84.14 L177.34,83.25 L177.53,82.37 L177.71,81.49 L177.89,80.60 L178.06,79.72 L178.24,78.83 L178.41,77.95 L178.58,77.06 L178.75,76.17 L178.91,75.29 L179.07,74.40 L179.23,73.51 L179.38,72.62 L179.53,71.73 L179.67,70.84 L179.81,69.95 L179.94,69.06 L180.06,68.16 L180.18,67.27 L180.29,66.37 L180.41,65.48 L180.52,64.58 L180.63,63.69 L180.75,62.79 L180.87,61.90 L181.00,61.01 L181.13,60.11 L181.27,59.22 L181.40,58.33 L181.54,57.43 L181.67,56.54 L181.81,55.65 L181.96,54.75 L182.10,53.86 L182.25,52.97 L182.41,52.08 L182.57,51.19 L182.74,50.30 L182.92,49.42 L183.10,48.54 L183.29,47.66 L183.49,46.79 L183.70,45.91 L183.91,45.01 L184.14,44.11 L184.39,43.21 L184.65,42.32 L184.94,41.45 L185.25,40.61 L185.59,39.81 L185.97,39.05 L186.42,38.29 L186.98,37.48 L187.63,36.71 L188.34,36.06 L189.08,35.62 L189.84,35.44 L190.71,35.33 L191.64,35.25 L192.58,35.21 L193.49,35.20 L194.39,35.20 L195.29,35.20 L196.19,35.20 L197.09,35.20 L197.99,35.20 L198.89,35.20 L199.79,35.20 L200.69,35.20 L201.60,35.20 L202.50,35.20 L203.40,35.20 L204.30,35.20 L205.20,35.20 L206.10,35.20 L207.01,35.20 L207.91,35.20 L208.81,35.20 L209.71,35.20 L210.62,35.20 L211.52,35.20 L212.42,35.20 L213.32,35.20 L214.23,35.20 L215.13,35.20 L216.04,35.20 L216.94,35.20 L217.85,35.20 L218.75,35.20" fill="none" stroke="#00ffff" stroke-width="3.5" stroke-dasharray="6.9 2.33 1.62 2.33"/>
<path d="M73.9,35.2 L440,35.2" fill="none" stroke="#000000" stroke-width="3.5" stroke-dasharray="2.93 2.33 2.93 4.96"/>
<path d="M374.80,171.5 L421.10,171.5" fill="none" stroke="#ff0000" stroke-width="3.5"/>
<text transform="translate(341.60,176.60) scale(1.1,1)" class="lg" letter-spacing="0.5">10</text>
<text x="367.50" y="171.10" class="lg" style="font-size:11.5px" text-anchor="end">3</text>
<path d="M374.80,192.2 L421.10,192.2" fill="none" stroke="#00ff00" stroke-width="3.5" stroke-dasharray="5.56 2.33"/>
<text transform="translate(341.60,197.30) scale(1.1,1)" class="lg" letter-spacing="0.5">10</text>
<text x="367.50" y="191.80" class="lg" style="font-size:11.5px" text-anchor="end">4</text>
<path d="M374.80,212.9 L421.10,212.9" fill="none" stroke="#0000ff" stroke-width="3.5" stroke-dasharray="2.93 3.65"/>
<text transform="translate(341.60,218.00) scale(1.1,1)" class="lg" letter-spacing="0.5">10</text>
<text x="367.50" y="212.50" class="lg" style="font-size:11.5px" text-anchor="end">5</text>
<path d="M374.80,233.5 L421.10,233.5" fill="none" stroke="#ff00ff" stroke-width="3.5" stroke-dasharray="1.62 1.67"/>
<text transform="translate(341.60,238.60) scale(1.1,1)" class="lg" letter-spacing="0.5">10</text>
<text x="367.50" y="233.10" class="lg" style="font-size:11.5px" text-anchor="end">7</text>
<path d="M374.80,254.2 L421.10,254.2" fill="none" stroke="#00ffff" stroke-width="3.5" stroke-dasharray="6.9 2.33 1.62 2.33"/>
<text transform="translate(341.60,259.30) scale(1.1,1)" class="lg" letter-spacing="0.5">10</text>
<text x="367.50" y="253.80" class="lg" style="font-size:11.5px" text-anchor="end">9</text>
<path d="M374.80,274.8 L421.10,274.8" fill="none" stroke="#000000" stroke-width="3.5" stroke-dasharray="2.93 2.33 2.93 4.96"/>
<text transform="translate(303.10,280.40) scale(1.47,1)" class="lg" font-style="italic" font-weight="bold" style="stroke-width:0">W</text>
<text x="326.60" y="280.40" class="lg">(</text>
<text x="333.70" y="280.40" class="lg" letter-spacing="2">111</text>
<text x="363.30" y="280.40" class="lg">)</text>
<text transform="translate(264.25,338) scale(1.24,1)" class="al" text-anchor="middle">generation</text>
<text transform="translate(16.3,152) rotate(-90) scale(1.21,1)" class="al" text-anchor="middle">mean fitness</text>
<text transform="translate(2.5,18) scale(1.12,0.95)" class="pl">a</text>
<rect x="557.3" y="28.2" width="356.0" height="265.1" fill="none" stroke="#000" stroke-width="1.3"/>
<text transform="translate(570.51,316.7) scale(1,1.1)" class="tk">10</text>
<text x="587.41" y="308.4" class="tk" style="font-size:12.4px">2</text>
<text transform="translate(653.26,316.7) scale(1,1.1)" class="tk">10</text>
<text x="670.16" y="308.4" class="tk" style="font-size:12.4px">3</text>
<text transform="translate(736.01,316.7) scale(1,1.1)" class="tk">10</text>
<text x="752.91" y="308.4" class="tk" style="font-size:12.4px">4</text>
<text transform="translate(818.76,316.7) scale(1,1.1)" class="tk">10</text>
<text x="835.66" y="308.4" class="tk" style="font-size:12.4px">5</text>
<text transform="translate(901.51,316.7) scale(1,1.1)" class="tk">10</text>
<text x="918.41" y="308.4" class="tk" style="font-size:12.4px">6</text>
<text transform="translate(547.5,298.85) scale(1,1.1)" class="tk" text-anchor="end">1</text>
<text transform="translate(547.5,213.20) scale(1,1.1)" class="tk" text-anchor="end">1.02</text>
<text transform="translate(547.5,127.40) scale(1,1.1)" class="tk" text-anchor="end">1.04</text>
<text transform="translate(547.5,42.60) scale(1,1.1)" class="tk" text-anchor="end">1.06</text>
<path d="M557.30,293.3 v-3.8 M557.30,28.2 v3.8 M574.19,293.3 v-3.8 M574.19,28.2 v3.8 M582.21,293.3 v-7.8 M582.21,28.2 v7.8 M607.12,293.3 v-3.8 M607.12,28.2 v3.8 M640.05,293.3 v-3.8 M640.05,28.2 v3.8 M656.94,293.3 v-3.8 M656.94,28.2 v3.8 M664.96,293.3 v-7.8 M664.96,28.2 v7.8 M689.87,293.3 v-3.8 M689.87,28.2 v3.8 M722.80,293.3 v-3.8 M722.80,28.2 v3.8 M739.69,293.3 v-3.8 M739.69,28.2 v3.8 M747.71,293.3 v-7.8 M747.71,28.2 v7.8 M772.62,293.3 v-3.8 M772.62,28.2 v3.8 M805.55,293.3 v-3.8 M805.55,28.2 v3.8 M822.44,293.3 v-3.8 M822.44,28.2 v3.8 M830.46,293.3 v-7.8 M830.46,28.2 v7.8 M855.37,293.3 v-3.8 M855.37,28.2 v3.8 M888.30,293.3 v-3.8 M888.30,28.2 v3.8 M905.19,293.3 v-3.8 M905.19,28.2 v3.8 M913.21,293.3 v-7.8 M913.21,28.2 v7.8 M557.3,293.25 h7.8 M913.3,293.25 h-7.8 M557.3,207.6 h7.8 M913.3,207.6 h-7.8 M557.3,121.8 h7.8 M913.3,121.8 h-7.8 M557.3,37 h7.8 M913.3,37 h-7.8" stroke="#000" stroke-width="1.25" fill="none"/>
<path d="M557.30,293.30 L558.19,293.28 L559.08,293.25 L559.98,293.22 L560.87,293.19 L561.76,293.15 L562.65,293.11 L563.54,293.06 L564.44,293.01 L565.33,292.95 L566.22,292.89 L567.11,292.82 L568.01,292.75 L568.90,292.67 L569.79,292.58 L570.68,292.48 L571.57,292.37 L572.47,292.25 L573.36,292.13 L574.25,291.99 L575.14,291.84 L576.03,291.68 L576.93,291.50 L577.82,291.31 L578.71,291.11 L579.60,290.89 L580.49,290.66 L581.39,290.41 L582.28,290.14 L583.17,289.86 L584.06,289.55 L584.96,289.23 L585.85,288.89 L586.74,288.52 L587.63,288.14 L588.52,287.73 L589.42,287.30 L590.31,286.84 L591.20,286.36 L592.09,285.85 L592.98,285.32 L593.88,284.76 L594.77,284.17 L595.66,283.56 L596.55,282.92 L597.44,282.25 L598.34,281.55 L599.23,280.82 L600.12,280.06 L601.01,279.26 L601.91,278.44 L602.80,277.59 L603.69,276.70 L604.58,275.78 L605.47,274.84 L606.37,273.85 L607.26,272.84 L608.15,271.80 L609.04,270.72 L609.93,269.61 L610.83,268.46 L611.72,267.29 L612.61,266.08 L613.50,264.84 L614.39,263.57 L615.29,262.27 L616.18,260.94 L617.07,259.58 L617.96,258.19 L618.86,256.76 L619.75,255.31 L620.64,253.83 L621.53,252.32 L622.42,250.79 L623.32,249.23 L624.21,247.64 L625.10,246.02 L625.99,244.38 L626.88,242.72 L627.78,241.03 L628.67,239.32 L629.56,237.58 L630.45,235.83 L631.34,234.05 L632.24,232.26 L633.13,230.45 L634.02,228.61 L634.91,226.77 L635.81,224.90 L636.70,223.02 L637.59,221.12 L638.48,219.22 L639.37,217.29 L640.27,215.36 L641.16,213.42 L642.05,211.46 L642.94,209.50 L643.83,207.52 L644.73,205.54 L645.62,203.56 L646.51,201.56 L647.40,199.57 L648.29,197.56 L649.19,195.56 L650.08,193.55 L650.97,191.54 L651.86,189.53 L652.76,187.53 L653.65,185.52 L654.54,183.51 L655.43,181.51 L656.32,179.50 L657.22,177.51 L658.11,175.51 L659.00,173.53 L659.89,171.55 L660.78,169.57 L661.68,167.61 L662.57,165.65 L663.46,163.70 L664.35,161.76 L665.24,159.83 L666.14,157.91 L667.03,156.00 L667.92,154.11 L668.81,152.23 L669.71,150.36 L670.60,148.50 L671.49,146.66 L672.38,144.83 L673.27,143.02 L674.17,141.22 L675.06,139.44 L675.95,137.68 L676.84,135.93 L677.73,134.20 L678.63,132.49 L679.52,130.80 L680.41,129.13 L681.30,127.47 L682.19,125.83 L683.09,124.22 L683.98,122.62 L684.87,121.05 L685.76,119.49 L686.66,117.96 L687.55,116.45 L688.44,114.95 L689.33,113.49 L690.22,112.04 L691.12,110.61 L692.01,109.21 L692.90,107.83 L693.79,106.47 L694.68,105.14 L695.58,103.83 L696.47,102.54 L697.36,101.27 L698.25,100.03 L699.14,98.81 L700.04,97.62 L700.93,96.45 L701.82,95.30 L702.71,94.18 L703.61,93.08 L704.50,92.00 L705.39,90.95 L706.28,89.92 L707.17,88.92 L708.07,87.94 L708.96,86.98 L709.85,86.05 L710.74,85.14 L711.63,84.25 L712.53,83.39 L713.42,82.55 L714.31,81.73 L715.20,80.94 L716.09,80.16 L716.99,79.41 L717.88,78.69 L718.77,77.98 L719.66,77.30 L720.56,76.64 L721.45,75.99 L722.34,75.37 L723.23,74.77 L724.12,74.20 L725.02,73.64 L725.91,73.10 L726.80,72.58 L727.69,72.08 L728.58,71.60 L729.48,71.14 L730.37,70.69 L731.26,70.26 L732.15,69.85 L733.04,69.46 L733.94,69.09 L734.83,68.73 L735.72,68.38 L736.61,68.05 L737.51,67.74 L738.40,67.44 L739.29,67.16 L740.18,66.89 L741.07,66.63 L741.97,66.39 L742.86,66.15 L743.75,65.93 L744.64,65.73 L745.53,65.53 L746.43,65.34 L747.32,65.17 L748.21,65.00 L749.10,64.85 L749.99,64.70 L750.89,64.56 L751.78,64.43 L752.67,64.31 L753.56,64.20 L754.46,64.09 L755.35,63.99 L756.24,63.90 L757.13,63.82 L758.02,63.74 L758.92,63.66 L759.81,63.59 L760.70,63.53 L761.59,63.47 L762.48,63.41 L763.38,63.36 L764.27,63.32 L765.16,63.27 L766.05,63.23 L766.94,63.20 L767.84,63.16 L768.73,63.13 L769.62,63.10 L770.51,63.08 L771.41,63.05 L772.30,63.03 L773.19,63.01 L774.08,62.99 L774.97,62.97 L775.87,62.96 L776.76,62.94 L777.65,62.93 L778.54,62.92 L779.43,62.91 L780.33,62.90 L781.22,62.89 L782.11,62.88 L783.00,62.87 L783.89,62.86 L784.79,62.86 L785.68,62.85 L786.57,62.84 L787.46,62.84 L788.36,62.83 L789.25,62.82 L790.14,62.82 L791.03,62.81 L791.92,62.81 L792.82,62.80 L793.71,62.79 L794.60,62.79 L795.49,62.78 L796.38,62.78 L797.28,62.77 L798.17,62.76 L799.06,62.76 L799.95,62.75 L800.84,62.74 L801.74,62.74 L802.63,62.73 L803.52,62.72 L804.41,62.71 L805.31,62.71 L806.20,62.70 L807.09,62.69 L807.98,62.68 L808.87,62.67 L809.77,62.66 L810.66,62.65 L811.55,62.64 L812.44,62.63 L813.33,62.62 L814.23,62.61 L815.12,62.60 L816.01,62.58 L816.90,62.57 L817.79,62.56 L818.69,62.54 L819.58,62.53 L820.47,62.52 L821.36,62.50 L822.26,62.48 L823.15,62.47 L824.04,62.45 L824.93,62.43 L825.82,62.41 L826.72,62.39 L827.61,62.37 L828.50,62.35 L829.39,62.33 L830.28,62.31 L831.18,62.29 L832.07,62.26 L832.96,62.24 L833.85,62.21 L834.74,62.18 L835.64,62.15 L836.53,62.13 L837.42,62.10 L838.31,62.06 L839.21,62.03 L840.10,62.00 L840.99,61.96 L841.88,61.93 L842.77,61.89 L843.67,61.85 L844.56,61.81 L845.45,61.77 L846.34,61.73 L847.23,61.68 L848.13,61.64 L849.02,61.59 L849.91,61.54 L850.80,61.49 L851.69,61.44 L852.59,61.38 L853.48,61.33 L854.37,61.27 L855.26,61.21 L856.16,61.14 L857.05,61.08 L857.94,61.01 L858.83,60.94 L859.72,60.87 L860.62,60.80 L861.51,60.72 L862.40,60.65 L863.29,60.56 L864.18,60.48 L865.08,60.40 L865.97,60.31 L866.86,60.22 L867.75,60.12 L868.64,60.03 L869.54,59.93 L870.43,59.82 L871.32,59.72 L872.21,59.61 L873.11,59.50 L874.00,59.39 L874.89,59.27 L875.78,59.15 L876.67,59.02 L877.57,58.90 L878.46,58.77 L879.35,58.63 L880.24,58.50 L881.13,58.36 L882.03,58.21 L882.92,58.07 L883.81,57.92 L884.70,57.76 L885.59,57.61 L886.49,57.45 L887.38,57.28 L888.27,57.12 L889.16,56.95 L890.06,56.78 L890.95,56.60 L891.84,56.42 L892.73,56.24 L893.62,56.05 L894.52,55.87 L895.41,55.68 L896.30,55.48 L897.19,55.29 L898.08,55.09 L898.98,54.89 L899.87,54.68 L900.76,54.48 L901.65,54.27 L902.54,54.06 L903.44,53.85 L904.33,53.64 L905.22,53.42 L906.11,53.21 L907.01,52.99 L907.90,52.77 L908.79,52.55 L909.68,52.33 L910.57,52.11 L911.47,51.89 L912.36,51.67 L913.25,51.45" fill="none" stroke="#ff0000" stroke-width="3.5"/>
<path d="M557.30,293.20 L558.64,293.20 L559.98,293.18 L561.30,293.16 L562.62,293.12 L563.92,293.08 L565.22,293.03 L566.51,292.97 L567.79,292.90 L569.06,292.82 L570.32,292.73 L571.58,292.63 L572.83,292.49 L574.09,292.19 L575.35,291.75 L576.58,291.22 L577.77,290.65 L578.90,290.05 L579.99,289.42 L581.07,288.68 L582.11,287.85 L583.11,286.96 L584.05,286.04 L584.91,285.10 L585.72,284.14 L586.50,283.14 L587.25,282.09 L587.98,281.01 L588.68,279.89 L589.35,278.76 L590.00,277.60 L590.62,276.43 L591.21,275.25 L591.78,274.07 L592.32,272.90 L592.84,271.73 L593.34,270.54 L593.82,269.34 L594.28,268.13 L594.72,266.91 L595.15,265.68 L595.57,264.44 L595.97,263.19 L596.36,261.94 L596.73,260.70 L597.09,259.45 L597.45,258.20 L597.78,256.95 L598.10,255.69 L598.41,254.44 L598.70,253.17 L598.99,251.90 L599.27,250.63 L599.54,249.36 L599.82,248.09 L600.09,246.82 L600.37,245.56 L600.66,244.29 L600.95,243.02 L601.24,241.76 L601.54,240.49 L601.83,239.23 L602.12,237.97 L602.42,236.70 L602.71,235.44 L603.00,234.17 L603.29,232.90 L603.58,231.64 L603.86,230.37 L604.14,229.10 L604.41,227.84 L604.68,226.57 L604.94,225.30 L605.20,224.02 L605.45,222.75 L605.69,221.48 L605.93,220.21 L606.17,218.93 L606.40,217.65 L606.62,216.38 L606.85,215.10 L607.07,213.82 L607.28,212.54 L607.50,211.26 L607.71,209.98 L607.92,208.70 L608.13,207.42 L608.33,206.14 L608.53,204.86 L608.74,203.57 L608.94,202.29 L609.14,201.01 L609.34,199.72 L609.53,198.44 L609.73,197.16 L609.93,195.87 L610.13,194.59 L610.33,193.31 L610.53,192.03 L610.73,190.74 L610.94,189.46 L611.14,188.18 L611.35,186.90 L611.56,185.62 L611.77,184.33 L611.98,183.05 L612.20,181.77 L612.41,180.50 L612.64,179.22 L612.86,177.94 L613.08,176.66 L613.30,175.38 L613.53,174.10 L613.75,172.82 L613.98,171.55 L614.21,170.27 L614.43,168.99 L614.66,167.71 L614.89,166.44 L615.12,165.16 L615.35,163.88 L615.58,162.60 L615.81,161.33 L616.05,160.05 L616.28,158.77 L616.52,157.50 L616.76,156.22 L616.99,154.95 L617.23,153.67 L617.47,152.39 L617.72,151.12 L617.96,149.84 L618.20,148.57 L618.45,147.30 L618.70,146.02 L618.95,144.75 L619.20,143.48 L619.45,142.20 L619.71,140.93 L619.96,139.66 L620.22,138.39 L620.49,137.12 L620.75,135.84 L621.02,134.57 L621.29,133.30 L621.56,132.04 L621.83,130.77 L622.11,129.50 L622.38,128.23 L622.65,126.96 L622.93,125.69 L623.20,124.42 L623.48,123.15 L623.77,121.88 L624.06,120.62 L624.37,119.36 L624.70,118.10 L625.04,116.86 L625.40,115.61 L625.77,114.37 L626.16,113.12 L626.56,111.88 L626.98,110.65 L627.41,109.42 L627.86,108.19 L628.32,106.98 L628.81,105.77 L629.30,104.58 L629.82,103.40 L630.36,102.23 L630.94,101.06 L631.55,99.91 L632.20,98.77 L632.88,97.66 L633.59,96.58 L634.34,95.54 L635.13,94.51 L635.96,93.49 L636.83,92.50 L637.74,91.55 L638.68,90.64 L639.64,89.79 L640.63,89.01 L641.68,88.25 L642.77,87.53 L643.89,86.84 L645.04,86.19 L646.20,85.60 L647.37,85.05 L648.56,84.56 L649.77,84.11 L651.00,83.68 L652.25,83.29 L653.50,82.92 L654.75,82.57 L656.00,82.24 L657.26,81.92 L658.52,81.62 L659.79,81.33 L661.06,81.05 L662.33,80.79 L663.61,80.55 L664.89,80.32 L666.16,80.10 L667.44,79.90 L668.73,79.70 L670.01,79.51 L671.30,79.34 L672.59,79.17 L673.88,79.01 L675.17,78.86 L676.46,78.73 L677.75,78.60 L679.04,78.47 L680.33,78.35 L681.62,78.24 L682.92,78.13 L684.21,78.02 L685.51,77.92 L686.80,77.82 L688.10,77.73 L689.39,77.64 L690.68,77.55 L691.98,77.47 L693.27,77.39 L694.57,77.31 L695.86,77.24 L697.16,77.16 L698.46,77.09 L699.75,77.02 L701.05,76.95 L702.34,76.89 L703.64,76.82 L704.94,76.75 L706.23,76.69 L707.53,76.63 L708.83,76.56 L710.12,76.50 L711.42,76.43 L712.72,76.37 L714.01,76.30 L715.31,76.23 L716.60,76.17 L717.90,76.10 L719.20,76.03 L720.49,75.97 L721.79,75.90 L723.08,75.83 L724.38,75.77 L725.68,75.70 L726.97,75.64 L728.27,75.57 L729.56,75.51 L730.86,75.44 L732.16,75.38 L733.45,75.31 L734.75,75.25 L736.05,75.19 L737.34,75.13 L738.64,75.06 L739.94,75.00 L741.23,74.94 L742.53,74.88 L743.82,74.82 L745.12,74.76 L746.42,74.70 L747.71,74.64 L749.01,74.59 L750.31,74.53 L751.60,74.47 L752.90,74.42 L754.20,74.36 L755.49,74.31 L756.79,74.26 L758.09,74.21 L759.39,74.17 L760.68,74.13 L761.98,74.09 L763.28,74.05 L764.58,74.01 L765.88,73.97 L767.18,73.93 L768.47,73.89 L769.77,73.84 L771.07,73.79 L772.36,73.73 L773.66,73.67 L774.95,73.60 L776.24,73.52 L777.53,73.43 L778.82,73.32 L780.12,73.20 L781.41,73.07 L782.70,72.93 L783.99,72.78 L785.28,72.61 L786.57,72.44 L787.86,72.26 L789.14,72.08 L790.43,71.88 L791.72,71.68 L793.00,71.48 L794.28,71.27 L795.56,71.05 L796.84,70.84 L798.12,70.62 L799.40,70.40 L800.68,70.18 L801.95,69.95 L803.23,69.71 L804.51,69.45 L805.78,69.18 L807.05,68.89 L808.32,68.59 L809.58,68.27 L810.83,67.94 L812.06,67.58 L813.29,67.18 L814.49,66.71 L815.69,66.21 L816.89,65.68 L818.08,65.17 L819.29,64.67 L820.50,64.22 L821.73,63.80 L822.96,63.39 L824.20,62.98 L825.42,62.55 L826.64,62.11 L827.86,61.67 L829.08,61.22 L830.29,60.76 L831.51,60.30 L832.72,59.84 L833.93,59.38 L835.14,58.91 L836.35,58.44 L837.56,57.97 L838.78,57.51 L839.99,57.04 L841.20,56.57 L842.41,56.10 L843.62,55.62 L844.82,55.15 L846.03,54.66 L847.23,54.17 L848.43,53.67 L849.62,53.16 L850.81,52.65 L851.99,52.11 L853.16,51.57 L854.34,51.01 L855.51,50.44 L856.67,49.87 L857.84,49.30 L859.00,48.72 L860.17,48.15 L861.33,47.58 L862.50,47.01 L863.67,46.46 L864.85,45.91 L866.03,45.37 L867.22,44.85 L868.41,44.34 L869.61,43.83 L870.80,43.32 L872.00,42.81 L873.19,42.30 L874.38,41.78 L875.57,41.26 L876.76,40.73 L877.94,40.20 L879.13,39.68 L880.32,39.16 L881.52,38.66 L882.72,38.17 L883.93,37.70 L885.14,37.25 L886.36,36.81 L887.58,36.37 L888.81,35.94 L890.04,35.51 L891.28,35.10 L892.52,34.70 L893.77,34.33 L895.02,33.99 L896.27,33.67 L897.53,33.39 L898.80,33.14 L900.08,32.89 L901.36,32.67 L902.65,32.47 L903.94,32.30 L905.22,32.18 L906.51,32.08 L907.81,31.98 L909.10,31.89 L910.40,31.82 L911.70,31.77 L913.00,31.75" fill="none" stroke="#00ff00" stroke-width="3.5" stroke-dasharray="5.56 2.33"/>
<path d="M557.30,293.20 L558.47,293.19 L559.63,293.18 L560.78,293.15 L561.93,293.11 L563.08,293.07 L564.22,293.01 L565.36,292.95 L566.49,292.87 L567.62,292.79 L568.75,292.71 L569.87,292.61 L571.00,292.47 L572.13,292.25 L573.26,291.95 L574.37,291.60 L575.44,291.22 L576.47,290.80 L577.49,290.29 L578.49,289.68 L579.46,289.00 L580.37,288.28 L581.20,287.54 L581.99,286.77 L582.75,285.95 L583.48,285.08 L584.20,284.16 L584.88,283.21 L585.54,282.24 L586.17,281.24 L586.77,280.24 L587.33,279.22 L587.85,278.21 L588.34,277.20 L588.80,276.18 L589.24,275.14 L589.65,274.09 L590.04,273.02 L590.42,271.94 L590.79,270.84 L591.14,269.74 L591.48,268.64 L591.82,267.53 L592.16,266.42 L592.49,265.32 L592.82,264.22 L593.16,263.12 L593.51,262.03 L593.86,260.94 L594.22,259.85 L594.58,258.76 L594.94,257.66 L595.29,256.57 L595.62,255.47 L595.94,254.37 L596.24,253.26 L596.51,252.16 L596.75,251.05 L596.96,249.93 L597.14,248.81 L597.31,247.68 L597.45,246.55 L597.59,245.41 L597.72,244.27 L597.85,243.13 L597.97,241.99 L598.10,240.85 L598.23,239.71 L598.37,238.58 L598.51,237.44 L598.65,236.30 L598.79,235.17 L598.93,234.03 L599.07,232.90 L599.20,231.76 L599.34,230.62 L599.47,229.49 L599.60,228.35 L599.73,227.21 L599.85,226.08 L599.97,224.94 L600.08,223.80 L600.19,222.66 L600.29,221.52 L600.39,220.39 L600.48,219.25 L600.58,218.11 L600.67,216.97 L600.76,215.83 L600.84,214.69 L600.93,213.55 L601.01,212.41 L601.10,211.26 L601.18,210.12 L601.25,208.98 L601.33,207.84 L601.41,206.70 L601.48,205.56 L601.56,204.42 L601.63,203.27 L601.71,202.13 L601.78,200.99 L601.85,199.85 L601.92,198.71 L602.00,197.56 L602.07,196.42 L602.14,195.28 L602.21,194.14 L602.29,193.00 L602.36,191.85 L602.44,190.71 L602.51,189.57 L602.59,188.43 L602.67,187.29 L602.75,186.15 L602.83,185.00 L602.91,183.86 L602.99,182.72 L603.08,181.58 L603.17,180.44 L603.26,179.30 L603.35,178.16 L603.44,177.02 L603.53,175.88 L603.63,174.74 L603.72,173.60 L603.82,172.46 L603.92,171.32 L604.02,170.18 L604.12,169.04 L604.22,167.90 L604.32,166.76 L604.42,165.62 L604.52,164.48 L604.62,163.34 L604.73,162.20 L604.83,161.07 L604.93,159.93 L605.03,158.79 L605.14,157.65 L605.24,156.51 L605.34,155.37 L605.45,154.23 L605.55,153.09 L605.65,151.95 L605.75,150.81 L605.86,149.67 L605.96,148.53 L606.06,147.39 L606.16,146.25 L606.25,145.11 L606.35,143.97 L606.45,142.83 L606.54,141.69 L606.63,140.55 L606.72,139.41 L606.81,138.27 L606.90,137.13 L606.99,135.99 L607.08,134.84 L607.17,133.70 L607.26,132.56 L607.36,131.42 L607.45,130.28 L607.55,129.14 L607.65,128.00 L607.76,126.87 L607.87,125.73 L607.98,124.59 L608.10,123.45 L608.22,122.32 L608.35,121.18 L608.48,120.05 L608.61,118.91 L608.75,117.77 L608.90,116.64 L609.04,115.50 L609.20,114.37 L609.35,113.23 L609.51,112.10 L609.68,110.96 L609.84,109.83 L610.02,108.70 L610.19,107.57 L610.37,106.44 L610.56,105.31 L610.75,104.18 L610.94,103.05 L611.14,101.92 L611.34,100.80 L611.54,99.67 L611.75,98.55 L611.96,97.43 L612.18,96.30 L612.39,95.16 L612.60,94.01 L612.82,92.86 L613.06,91.71 L613.30,90.57 L613.57,89.44 L613.86,88.33 L614.18,87.25 L614.54,86.20 L614.92,85.18 L615.39,84.18 L616.01,83.16 L616.74,82.21 L617.54,81.38 L618.39,80.72 L619.40,80.08 L620.50,79.61 L621.59,79.50 L622.67,79.50 L623.77,79.50 L624.87,79.50 L625.98,79.50 L627.10,79.50 L628.23,79.50 L629.37,79.50 L630.51,79.50 L631.65,79.50 L632.81,79.50 L633.96,79.50 L635.12,79.50 L636.28,79.50 L637.45,79.50 L638.61,79.50 L639.78,79.50 L640.94,79.50 L642.11,79.50 L643.28,79.50 L644.44,79.50 L645.60,79.50 L646.76,79.50 L647.92,79.50 L649.07,79.50 L650.21,79.50 L651.36,79.50 L652.50,79.49 L653.64,79.48 L654.79,79.46 L655.93,79.44 L657.08,79.42 L658.22,79.39 L659.36,79.36 L660.51,79.33 L661.65,79.30 L662.79,79.27 L663.94,79.23 L665.08,79.20 L666.22,79.16 L667.36,79.11 L668.51,79.06 L669.65,79.00 L670.79,78.94 L671.94,78.86 L673.08,78.79 L674.22,78.71 L675.36,78.62 L676.50,78.53 L677.65,78.43 L678.79,78.33 L679.93,78.23 L681.07,78.12 L682.21,78.01 L683.35,77.90 L684.49,77.78 L685.62,77.67 L686.76,77.55 L687.90,77.43 L689.03,77.30 L690.17,77.18 L691.30,77.05 L692.43,76.92 L693.57,76.77 L694.70,76.62 L695.83,76.46 L696.97,76.30 L698.10,76.13 L699.23,75.95 L700.36,75.76 L701.49,75.57 L702.62,75.38 L703.75,75.18 L704.88,74.98 L706.00,74.77 L707.13,74.56 L708.26,74.35 L709.38,74.13 L710.50,73.91 L711.63,73.68 L712.75,73.46 L713.87,73.23 L714.99,73.00 L716.10,72.77 L717.22,72.52 L718.33,72.27 L719.45,72.00 L720.56,71.73 L721.67,71.45 L722.78,71.16 L723.88,70.87 L724.99,70.57 L726.10,70.28 L727.20,69.98 L728.30,69.68 L729.41,69.38 L730.51,69.07 L731.61,68.76 L732.71,68.45 L733.81,68.12 L734.91,67.80 L736.00,67.47 L737.10,67.13 L738.19,66.79 L739.28,66.44 L740.36,66.08 L741.45,65.71 L742.53,65.33 L743.60,64.94 L744.67,64.53 L745.73,64.10 L746.78,63.65 L747.82,63.19 L748.87,62.71 L749.91,62.24 L750.95,61.77 L752.00,61.30 L753.04,60.83 L754.08,60.36 L755.12,59.89 L756.16,59.41 L757.20,58.93 L758.24,58.46 L759.28,57.98 L760.32,57.50 L761.36,57.02 L762.40,56.55 L763.44,56.07 L764.48,55.59 L765.52,55.11 L766.56,54.64 L767.60,54.16 L768.64,53.68 L769.68,53.20 L770.71,52.71 L771.75,52.23 L772.78,51.74 L773.81,51.24 L774.84,50.74 L775.87,50.23 L776.89,49.71 L777.90,49.19 L778.92,48.66 L779.94,48.12 L780.95,47.59 L781.97,47.06 L782.98,46.54 L784.00,46.02 L785.03,45.51 L786.05,45.01 L787.09,44.52 L788.13,44.05 L789.17,43.59 L790.22,43.14 L791.27,42.71 L792.33,42.28 L793.40,41.86 L794.47,41.45 L795.54,41.04 L796.61,40.64 L797.68,40.24 L798.76,39.84 L799.83,39.45 L800.91,39.06 L801.99,38.67 L803.06,38.28 L804.14,37.89 L805.21,37.49 L806.29,37.10 L807.36,36.71 L808.44,36.33 L809.53,35.96 L810.61,35.59 L811.70,35.25 L812.79,34.91 L813.89,34.58 L814.99,34.24 L816.09,33.92 L817.19,33.61 L818.30,33.34 L819.42,33.10 L820.54,32.91 L821.66,32.73 L822.79,32.56 L823.93,32.41 L825.06,32.27 L826.20,32.16 L827.35,32.06 L828.50,32.00" fill="none" stroke="#0000ff" stroke-width="3.5" stroke-dasharray="2.93 3.65"/>
<path d="M557.30,293.20 L558.24,293.20 L559.18,293.19 L560.11,293.17 L561.04,293.14 L561.97,293.11 L562.89,293.08 L563.81,293.03 L564.73,292.98 L565.65,292.93 L566.56,292.87 L567.47,292.81 L568.38,292.74 L569.29,292.66 L570.19,292.58 L571.10,292.46 L572.01,292.27 L572.92,292.05 L573.82,291.78 L574.71,291.48 L575.56,291.17 L576.39,290.84 L577.22,290.44 L578.05,289.98 L578.85,289.46 L579.62,288.91 L580.35,288.32 L581.02,287.72 L581.63,287.11 L582.22,286.45 L582.79,285.75 L583.33,285.02 L583.86,284.25 L584.37,283.46 L584.86,282.65 L585.34,281.83 L585.79,280.99 L586.23,280.15 L586.65,279.30 L587.05,278.46 L587.44,277.63 L587.81,276.80 L588.17,275.97 L588.51,275.12 L588.84,274.27 L589.16,273.41 L589.47,272.54 L589.78,271.67 L590.07,270.79 L590.36,269.91 L590.64,269.02 L590.92,268.13 L591.19,267.25 L591.47,266.36 L591.74,265.47 L592.01,264.58 L592.28,263.70 L592.56,262.82 L592.84,261.94 L593.12,261.06 L593.41,260.18 L593.70,259.30 L593.99,258.42 L594.28,257.54 L594.56,256.66 L594.83,255.77 L595.09,254.89 L595.34,254.00 L595.58,253.11 L595.80,252.22 L596.00,251.32 L596.17,250.42 L596.33,249.52 L596.47,248.62 L596.60,247.71 L596.72,246.79 L596.84,245.88 L596.94,244.96 L597.05,244.04 L597.15,243.12 L597.25,242.20 L597.35,241.28 L597.46,240.37 L597.57,239.45 L597.68,238.54 L597.79,237.62 L597.90,236.71 L598.01,235.79 L598.13,234.87 L598.24,233.96 L598.35,233.04 L598.46,232.13 L598.57,231.21 L598.68,230.30 L598.78,229.38 L598.89,228.46 L598.99,227.55 L599.09,226.63 L599.19,225.71 L599.28,224.80 L599.37,223.88 L599.46,222.96 L599.54,222.05 L599.62,221.13 L599.70,220.21 L599.78,219.29 L599.85,218.37 L599.93,217.45 L600.00,216.54 L600.07,215.62 L600.14,214.70 L600.21,213.78 L600.28,212.86 L600.35,211.94 L600.41,211.02 L600.48,210.10 L600.54,209.18 L600.60,208.26 L600.67,207.34 L600.73,206.42 L600.79,205.50 L600.85,204.58 L600.91,203.66 L600.97,202.74 L601.03,201.82 L601.08,200.90 L601.14,199.98 L601.20,199.06 L601.26,198.14 L601.32,197.22 L601.38,196.30 L601.43,195.38 L601.49,194.46 L601.55,193.54 L601.61,192.62 L601.67,191.70 L601.73,190.78 L601.79,189.86 L601.85,188.94 L601.92,188.02 L601.98,187.10 L602.04,186.18 L602.11,185.26 L602.17,184.34 L602.24,183.42 L602.31,182.50 L602.38,181.58 L602.45,180.66 L602.52,179.74 L602.59,178.82 L602.67,177.90 L602.74,176.98 L602.82,176.06 L602.89,175.14 L602.97,174.23 L603.05,173.31 L603.13,172.39 L603.20,171.47 L603.28,170.55 L603.36,169.63 L603.44,168.71 L603.53,167.80 L603.61,166.88 L603.69,165.96 L603.77,165.04 L603.85,164.12 L603.93,163.20 L604.02,162.29 L604.10,161.37 L604.18,160.45 L604.27,159.53 L604.35,158.61 L604.43,157.69 L604.52,156.78 L604.60,155.86 L604.68,154.94 L604.77,154.02 L604.85,153.10 L604.93,152.18 L605.01,151.27 L605.10,150.35 L605.18,149.43 L605.26,148.51 L605.34,147.59 L605.42,146.67 L605.50,145.76 L605.58,144.84 L605.66,143.92 L605.73,143.00 L605.81,142.08 L605.88,141.16 L605.95,140.24 L606.03,139.32 L606.10,138.40 L606.17,137.48 L606.24,136.56 L606.31,135.64 L606.39,134.72 L606.46,133.80 L606.54,132.88 L606.61,131.96 L606.69,131.05 L606.77,130.13 L606.85,129.21 L606.93,128.29 L607.01,127.37 L607.10,126.46 L607.19,125.54 L607.28,124.62 L607.37,123.71 L607.47,122.79 L607.57,121.87 L607.67,120.96 L607.77,120.04 L607.88,119.13 L607.99,118.21 L608.10,117.29 L608.21,116.37 L608.33,115.46 L608.44,114.54 L608.56,113.62 L608.69,112.70 L608.81,111.79 L608.94,110.87 L609.07,109.96 L609.21,109.04 L609.35,108.13 L609.49,107.22 L609.63,106.30 L609.78,105.39 L609.93,104.48 L610.09,103.58 L610.25,102.67 L610.42,101.76 L610.58,100.86 L610.76,99.96 L610.93,99.06 L611.11,98.16 L611.30,97.26 L611.49,96.36 L611.69,95.45 L611.90,94.54 L612.12,93.63 L612.34,92.71 L612.58,91.80 L612.83,90.90 L613.10,90.00 L613.38,89.12 L613.68,88.24 L613.99,87.38 L614.32,86.54 L614.67,85.72 L615.04,84.91 L615.47,84.10 L615.97,83.28 L616.53,82.49 L617.14,81.77 L617.79,81.16 L618.50,80.64 L619.31,80.13 L620.19,79.71 L621.08,79.51 L621.95,79.50 L622.83,79.50 L623.72,79.50 L624.61,79.50 L625.52,79.50 L626.43,79.50 L627.35,79.50 L628.27,79.50 L629.20,79.50 L630.14,79.50 L631.08,79.50 L632.03,79.50 L632.98,79.50 L633.94,79.50 L634.89,79.50 L635.85,79.50 L636.81,79.50 L637.78,79.50 L638.74,79.50 L639.71,79.50 L640.67,79.50 L641.64,79.50 L642.60,79.50 L643.57,79.50 L644.53,79.50 L645.48,79.50 L646.44,79.50 L647.39,79.50 L648.34,79.50 L649.28,79.50 L650.22,79.50 L651.15,79.50 L652.08,79.50 L653.00,79.50 L653.91,79.50 L654.82,79.50 L655.72,79.50 L656.61,79.50 L657.49,79.50 L658.36,79.50 L659.22,79.50 L660.07,79.50 L660.91,79.50 L661.74,79.50 L662.55,79.50 L663.37,79.35 L664.19,78.97 L664.99,78.42 L665.76,77.76 L666.49,77.06 L667.16,76.36 L667.76,75.72 L668.31,75.04 L668.84,74.31 L669.34,73.55 L669.81,72.75 L670.27,71.93 L670.71,71.09 L671.14,70.24 L671.56,69.38 L671.98,68.54 L672.39,67.71 L672.81,66.89 L673.21,66.06 L673.60,65.23 L673.99,64.39 L674.36,63.55 L674.73,62.70 L675.10,61.86 L675.46,61.01 L675.82,60.16 L676.18,59.31 L676.54,58.46 L676.91,57.61 L677.27,56.76 L677.65,55.92 L678.02,55.07 L678.39,54.23 L678.76,53.38 L679.13,52.54 L679.50,51.69 L679.86,50.85 L680.23,50.00 L680.61,49.16 L680.98,48.32 L681.36,47.47 L681.74,46.64 L682.13,45.80 L682.52,44.96 L682.90,44.12 L683.28,43.26 L683.66,42.40 L684.04,41.53 L684.43,40.68 L684.83,39.85 L685.27,39.04 L685.73,38.27 L686.22,37.54 L686.77,36.82 L687.37,36.08 L688.03,35.36 L688.72,34.67 L689.45,34.04 L690.20,33.51 L690.98,33.11 L691.78,32.82 L692.65,32.55 L693.56,32.31 L694.50,32.13 L695.44,32.02 L696.35,32.00 L697.26,32.00 L698.17,32.00 L699.08,32.00 L700.00,32.00 L700.91,32.00 L701.82,32.00 L702.74,32.00 L703.65,32.00 L704.57,32.00 L705.49,32.00 L706.40,32.00 L707.32,32.00 L708.24,32.00 L709.17,32.00 L710.09,32.00 L711.01,32.00 L711.93,32.00 L712.86,32.00 L713.79,32.00 L714.72,32.00 L715.64,32.00 L716.58,32.00 L717.51,32.00 L718.44,32.00 L719.38,32.00 L720.31,32.00 L721.25,32.00" fill="none" stroke="#ff00ff" stroke-width="3.5" stroke-dasharray="1.62 1.67"/>
<path d="M557.30,293.20 L558.25,293.20 L559.20,293.19 L560.15,293.17 L561.10,293.14 L562.04,293.11 L562.98,293.07 L563.91,293.03 L564.84,292.98 L565.77,292.92 L566.70,292.86 L567.63,292.79 L568.55,292.72 L569.47,292.65 L570.39,292.56 L571.32,292.42 L572.24,292.22 L573.17,291.98 L574.07,291.70 L574.96,291.39 L575.82,291.07 L576.67,290.71 L577.51,290.29 L578.34,289.80 L579.14,289.26 L579.91,288.68 L580.63,288.08 L581.28,287.47 L581.89,286.83 L582.48,286.14 L583.05,285.41 L583.59,284.65 L584.12,283.86 L584.63,283.05 L585.12,282.21 L585.59,281.37 L586.04,280.51 L586.48,279.66 L586.89,278.80 L587.29,277.95 L587.67,277.11 L588.04,276.27 L588.40,275.41 L588.74,274.55 L589.07,273.68 L589.38,272.80 L589.69,271.91 L589.99,271.02 L590.29,270.12 L590.58,269.23 L590.86,268.33 L591.14,267.42 L591.42,266.52 L591.69,265.62 L591.97,264.72 L592.24,263.82 L592.52,262.93 L592.81,262.03 L593.10,261.14 L593.39,260.25 L593.69,259.36 L593.98,258.46 L594.27,257.57 L594.56,256.67 L594.83,255.77 L595.10,254.87 L595.35,253.97 L595.59,253.06 L595.81,252.16 L596.01,251.25 L596.19,250.34 L596.35,249.42 L596.49,248.50 L596.62,247.58 L596.74,246.65 L596.86,245.72 L596.96,244.79 L597.07,243.85 L597.17,242.92 L597.27,241.98 L597.38,241.05 L597.49,240.12 L597.60,239.19 L597.71,238.26 L597.82,237.33 L597.94,236.40 L598.05,235.47 L598.17,234.54 L598.28,233.61 L598.39,232.68 L598.50,231.75 L598.62,230.82 L598.72,229.89 L598.83,228.96 L598.94,228.03 L599.04,227.10 L599.14,226.17 L599.24,225.24 L599.33,224.31 L599.42,223.38 L599.51,222.44 L599.59,221.51 L599.67,220.58 L599.75,219.65 L599.83,218.71 L599.90,217.78 L599.98,216.85 L600.05,215.91 L600.12,214.98 L600.19,214.05 L600.26,213.11 L600.33,212.18 L600.40,211.25 L600.46,210.31 L600.53,209.38 L600.59,208.44 L600.65,207.51 L600.72,206.58 L600.78,205.64 L600.84,204.71 L600.90,203.77 L600.96,202.84 L601.02,201.90 L601.08,200.97 L601.14,200.03 L601.20,199.10 L601.26,198.16 L601.32,197.23 L601.38,196.29 L601.44,195.36 L601.50,194.42 L601.56,193.49 L601.62,192.55 L601.68,191.62 L601.74,190.68 L601.80,189.75 L601.86,188.81 L601.93,187.88 L601.99,186.95 L602.06,186.01 L602.12,185.08 L602.19,184.14 L602.26,183.21 L602.33,182.28 L602.40,181.34 L602.47,180.41 L602.54,179.47 L602.62,178.54 L602.69,177.61 L602.77,176.67 L602.84,175.74 L602.92,174.81 L603.00,173.88 L603.08,172.94 L603.16,172.01 L603.24,171.08 L603.32,170.14 L603.40,169.21 L603.48,168.28 L603.57,167.35 L603.65,166.41 L603.73,165.48 L603.81,164.55 L603.90,163.61 L603.98,162.68 L604.07,161.75 L604.15,160.82 L604.23,159.88 L604.32,158.95 L604.40,158.02 L604.49,157.09 L604.57,156.15 L604.66,155.22 L604.74,154.29 L604.83,153.35 L604.91,152.42 L604.99,151.49 L605.08,150.56 L605.16,149.62 L605.24,148.69 L605.32,147.76 L605.41,146.83 L605.49,145.89 L605.57,144.96 L605.65,144.03 L605.72,143.09 L605.80,142.16 L605.88,141.23 L605.95,140.29 L606.02,139.36 L606.10,138.42 L606.17,137.49 L606.24,136.55 L606.32,135.62 L606.39,134.69 L606.47,133.75 L606.54,132.82 L606.62,131.89 L606.70,130.95 L606.78,130.02 L606.86,129.09 L606.94,128.15 L607.03,127.22 L607.11,126.29 L607.20,125.36 L607.30,124.43 L607.39,123.50 L607.49,122.57 L607.59,121.64 L607.70,120.71 L607.80,119.78 L607.91,118.85 L608.02,117.91 L608.14,116.98 L608.25,116.05 L608.37,115.12 L608.49,114.19 L608.61,113.26 L608.74,112.32 L608.87,111.39 L609.00,110.46 L609.14,109.53 L609.27,108.61 L609.42,107.68 L609.56,106.75 L609.71,105.83 L609.86,104.90 L610.02,103.98 L610.18,103.06 L610.35,102.14 L610.52,101.22 L610.69,100.30 L610.87,99.39 L611.05,98.47 L611.24,97.56 L611.43,96.65 L611.63,95.73 L611.84,94.80 L612.06,93.88 L612.28,92.95 L612.52,92.02 L612.78,91.10 L613.04,90.19 L613.33,89.29 L613.62,88.40 L613.94,87.52 L614.27,86.66 L614.62,85.82 L615.00,85.00 L615.42,84.18 L615.92,83.35 L616.49,82.54 L617.11,81.81 L617.77,81.18 L618.48,80.65 L619.31,80.13 L620.20,79.71 L621.10,79.50 L621.98,79.50 L622.87,79.50 L623.77,79.50 L624.66,79.50 L625.57,79.50 L626.48,79.50 L627.39,79.50 L628.31,79.50 L629.23,79.50 L630.16,79.50 L631.09,79.50 L632.03,79.50 L632.96,79.50 L633.90,79.50 L634.85,79.50 L635.79,79.50 L636.74,79.50 L637.69,79.50 L638.64,79.50 L639.60,79.50 L640.55,79.50 L641.51,79.50 L642.46,79.50 L643.42,79.50 L644.38,79.50 L645.33,79.50 L646.29,79.50 L647.25,79.50 L648.20,79.50 L649.16,79.50 L650.11,79.50 L651.06,79.50 L652.01,79.50 L652.96,79.50 L653.90,79.50 L654.85,79.50 L655.79,79.50 L656.72,79.50 L657.66,79.50 L658.59,79.50 L659.51,79.50 L660.43,79.50 L661.36,79.49 L662.30,79.34 L663.23,79.08 L664.11,78.76 L664.92,78.40 L665.71,77.90 L666.47,77.28 L667.18,76.58 L667.80,75.83 L668.30,75.09 L668.72,74.34 L669.11,73.55 L669.47,72.71 L669.80,71.84 L670.11,70.94 L670.39,70.02 L670.66,69.09 L670.92,68.15 L671.16,67.21 L671.40,66.27 L671.64,65.35 L671.87,64.44 L672.09,63.53 L672.29,62.62 L672.49,61.71 L672.67,60.79 L672.85,59.87 L673.03,58.95 L673.20,58.03 L673.37,57.10 L673.55,56.18 L673.73,55.26 L673.91,54.34 L674.11,53.42 L674.31,52.51 L674.51,51.59 L674.70,50.66 L674.89,49.74 L675.09,48.81 L675.28,47.87 L675.48,46.94 L675.68,46.02 L675.89,45.09 L676.11,44.18 L676.34,43.27 L676.59,42.37 L676.85,41.48 L677.13,40.60 L677.42,39.74 L677.74,38.89 L678.10,38.02 L678.51,37.13 L678.97,36.23 L679.48,35.38 L680.03,34.60 L680.62,33.91 L681.25,33.36 L682.00,32.86 L682.88,32.40 L683.81,32.08 L684.72,32.00 L685.61,32.00 L686.50,32.00 L687.39,32.00 L688.28,32.00 L689.18,32.00 L690.08,32.00 L690.98,32.00 L691.88,32.00 L692.78,32.00 L693.69,32.00 L694.60,32.00 L695.51,32.00 L696.42,32.00 L697.33,32.00 L698.25,32.00 L699.17,32.00 L700.10,32.00 L701.02,32.00 L701.95,32.00 L702.88,32.00 L703.82,32.00 L704.76,32.00 L705.70,32.00 L706.64,32.00 L707.59,32.00 L708.54,32.00 L709.50,32.00 L710.45,32.00 L711.42,32.00 L712.38,32.00 L713.35,32.00 L714.32,32.00 L715.30,32.00 L716.28,32.00 L717.27,32.00 L718.26,32.00 L719.25,32.00 L720.25,32.00 L721.25,32.00" fill="none" stroke="#00ffff" stroke-width="3.5" stroke-dasharray="6.9 2.33 1.62 2.33"/>
<path d="M557.3,32.0 L913.3,32.0" fill="none" stroke="#000000" stroke-width="3.5" stroke-dasharray="2.93 2.33 2.93 4.96"/>
<path d="M848.10,171.5 L894.40,171.5" fill="none" stroke="#ff0000" stroke-width="3.5"/>
<text transform="translate(814.90,176.60) scale(1.1,1)" class="lg" letter-spacing="0.5">10</text>
<text x="840.80" y="171.10" class="lg" style="font-size:11.5px" text-anchor="end">3</text>
<path d="M848.10,192.2 L894.40,192.2" fill="none" stroke="#00ff00" stroke-width="3.5" stroke-dasharray="5.56 2.33"/>
<text transform="translate(814.90,197.30) scale(1.1,1)" class="lg" letter-spacing="0.5">10</text>
<text x="840.80" y="191.80" class="lg" style="font-size:11.5px" text-anchor="end">4</text>
<path d="M848.10,212.9 L894.40,212.9" fill="none" stroke="#0000ff" stroke-width="3.5" stroke-dasharray="2.93 3.65"/>
<text transform="translate(814.90,218.00) scale(1.1,1)" class="lg" letter-spacing="0.5">10</text>
<text x="840.80" y="212.50" class="lg" style="font-size:11.5px" text-anchor="end">5</text>
<path d="M848.10,233.5 L894.40,233.5" fill="none" stroke="#ff00ff" stroke-width="3.5" stroke-dasharray="1.62 1.67"/>
<text transform="translate(814.90,238.60) scale(1.1,1)" class="lg" letter-spacing="0.5">10</text>
<text x="840.80" y="233.10" class="lg" style="font-size:11.5px" text-anchor="end">7</text>
<path d="M848.10,254.2 L894.40,254.2" fill="none" stroke="#00ffff" stroke-width="3.5" stroke-dasharray="6.9 2.33 1.62 2.33"/>
<text transform="translate(814.90,259.30) scale(1.1,1)" class="lg" letter-spacing="0.5">10</text>
<text x="840.80" y="253.80" class="lg" style="font-size:11.5px" text-anchor="end">9</text>
<path d="M848.10,274.8 L894.40,274.8" fill="none" stroke="#000000" stroke-width="3.5" stroke-dasharray="2.93 2.33 2.93 4.96"/>
<text transform="translate(776.40,280.40) scale(1.47,1)" class="lg" font-style="italic" font-weight="bold" style="stroke-width:0">W</text>
<text x="799.90" y="280.40" class="lg">(</text>
<text x="807.00" y="280.40" class="lg" letter-spacing="2">111</text>
<text x="836.60" y="280.40" class="lg">)</text>
<text transform="translate(742.60,338) scale(1.24,1)" class="al" text-anchor="middle">generation</text>
<text transform="translate(489.5,152) rotate(-90) scale(1.21,1)" class="al" text-anchor="middle">mean fitness</text>
<text transform="translate(473.6,18) scale(1.12,0.95)" class="pl">b</text>
</svg>
</body></html>
